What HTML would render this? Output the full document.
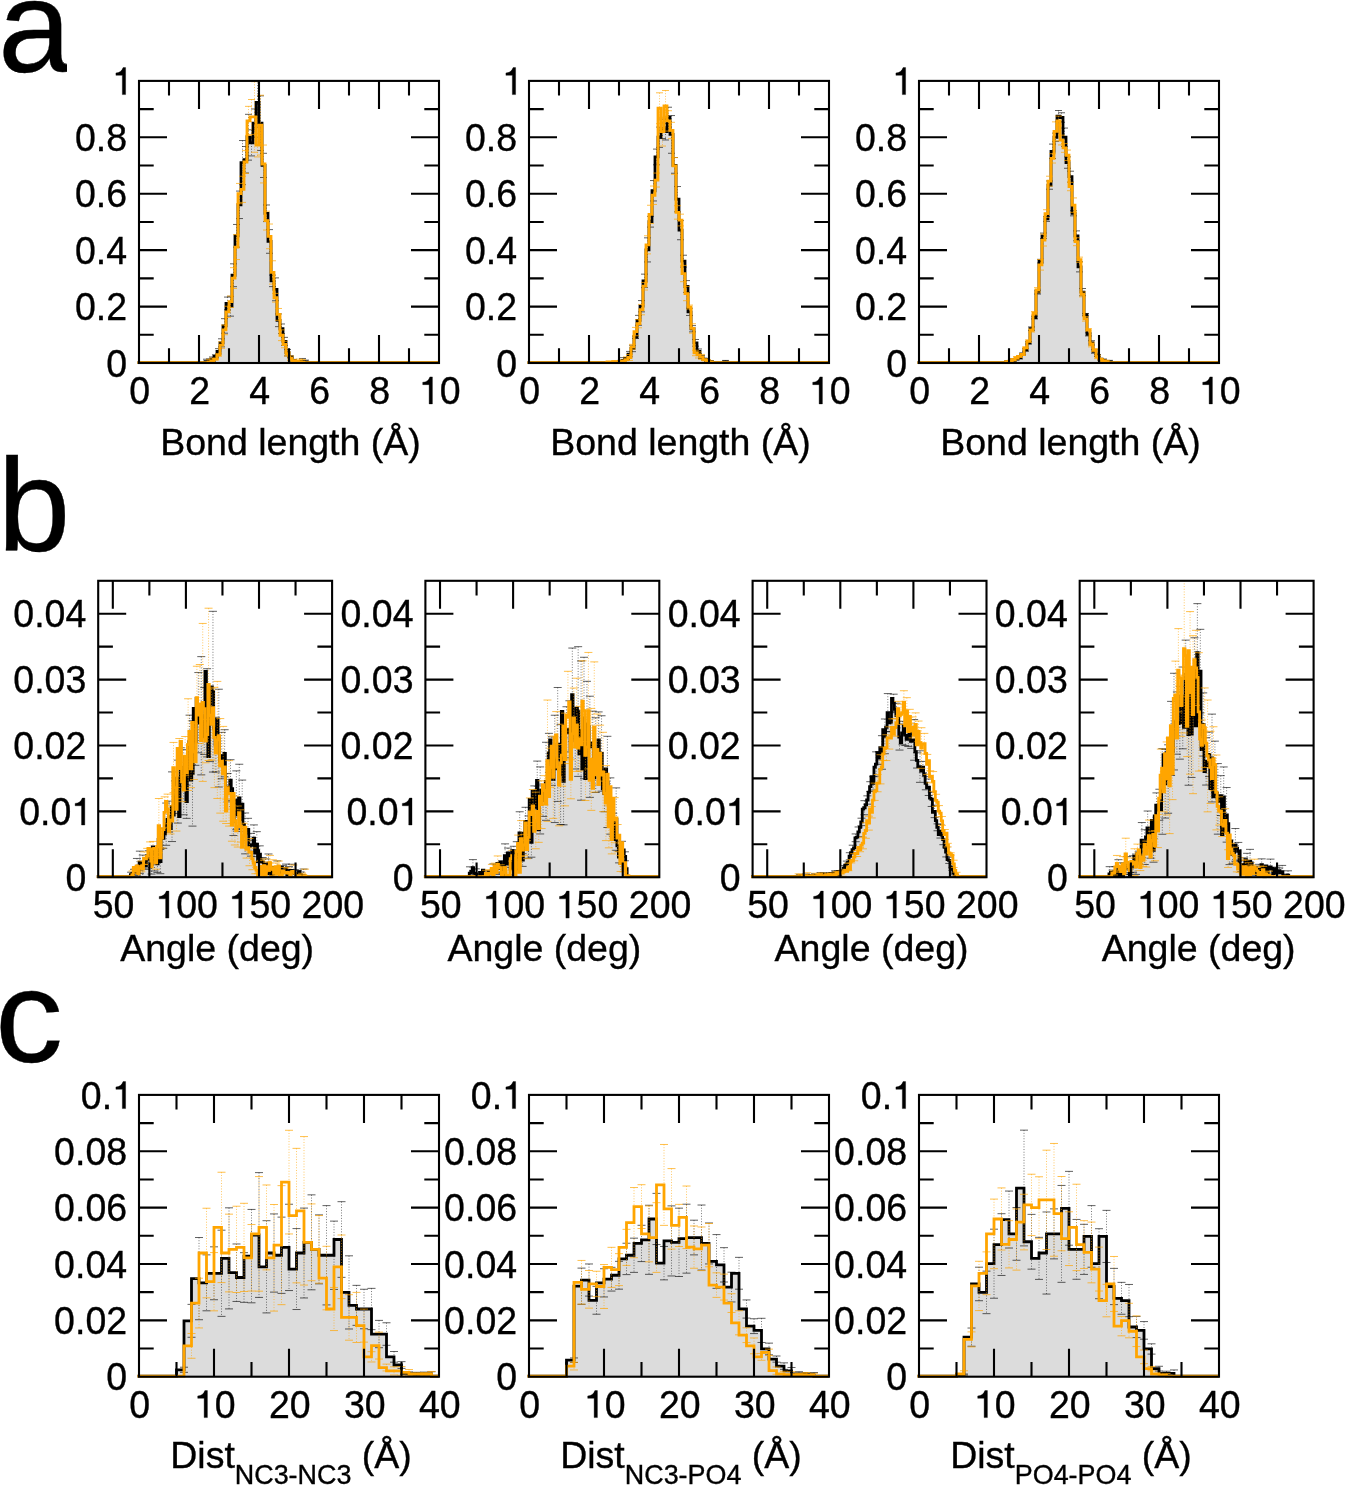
<!DOCTYPE html>
<html><head><meta charset="utf-8"><title>figure</title>
<style>html,body{margin:0;padding:0;background:#fff;font-family:"Liberation Sans",sans-serif;}svg{display:block;will-change:transform;}</style></head>
<body>
<svg width="1345" height="1485" viewBox="0 0 1345 1485" font-family="'Liberation Sans', sans-serif" font-size="37.5" fill="#000" stroke="#000" stroke-width="0.35">
<rect width="1345" height="1485" fill="#fff" stroke="none"/>
<clipPath id="c139_80"><rect x="137" y="80.9" width="304" height="283.1"/></clipPath>
<g clip-path="url(#c139_80)">
<path d="M139 362.55H205V361.71H208V360.86H211V359.17H214V356.35H217V351.28H220V342.83H223V325.94H226V303.4H229V306.22H232V275.24H235V235.81H238V204.83H241V162.58H244V159.76H247V137.23H250V142.86H253V123.15H256V102.31H259V123.15H262V165.4H265V213.28H268V241.44H271V280.87H274V289.32H277V320.3H280V328.75H283V341.43H286V352.69H289V356.92H292V360.3H295V361.42H301V361.71H304V361.99H307V362.55H439H439Z" fill="#dcdcdc" stroke="none"/>
<path d="M206.5 359.21V362.55M209.5 358.96V362.55M212.5 356.98V361.36M215.5 354.71V358M218.5 348.67V353.9M221.5 338.81V346.86M224.5 318.67V333.2M227.5 297.08V309.72M230.5 296.29V316.15M233.5 263.82V286.66M236.5 224.46V247.16M239.5 191.09V218.56M242.5 140.53V184.63M245.5 146.52V173M248.5 114.32V160.14M251.5 129.81V155.92M254.5 108.98V137.31M257.5 77.05V127.56M260.5 95.84V150.46M263.5 153.3V177.49M266.5 204.97V221.59M269.5 229.61V253.27M272.5 275.11V286.63M275.5 277.88V300.76M278.5 313.95V326.65M281.5 323.98V333.52M284.5 337.37V345.48M287.5 349.47V355.91M290.5 356.05V357.79M293.5 359.33V361.26M296.5 360.89V361.95M299.5 360.9V361.94M302.5 358.47V362.55M305.5 360.12V362.55" fill="none" stroke="#000" stroke-width="1.0" stroke-dasharray="1 1.7" opacity="0.527"/><path d="M203 359.21h7M203 362.55h7M206 358.96h7M206 362.55h7M209 356.98h7M209 361.36h7M212 354.71h7M212 358h7M215 348.67h7M215 353.9h7M218 338.81h7M218 346.86h7M221 318.67h7M221 333.2h7M224 297.08h7M224 309.72h7M227 296.29h7M227 316.15h7M230 263.82h7M230 286.66h7M233 224.46h7M233 247.16h7M236 191.09h7M236 218.56h7M239 140.53h7M239 184.63h7M242 146.52h7M242 173h7M245 114.32h7M245 160.14h7M248 129.81h7M248 155.92h7M251 108.98h7M251 137.31h7M254 77.05h7M254 127.56h7M257 95.84h7M257 150.46h7M260 153.3h7M260 177.49h7M263 204.97h7M263 221.59h7M266 229.61h7M266 253.27h7M269 275.11h7M269 286.63h7M272 277.88h7M272 300.76h7M275 313.95h7M275 326.65h7M278 323.98h7M278 333.52h7M281 337.37h7M281 345.48h7M284 349.47h7M284 355.91h7M287 356.05h7M287 357.79h7M290 359.33h7M290 361.26h7M293 360.89h7M293 361.95h7M296 360.9h7M296 361.94h7M299 358.47h7M299 362.55h7M302 360.12h7M302 362.55h7" fill="none" stroke="#000" stroke-width="1.0" opacity="0.62"/>
<path d="M137.5 362.55H205V361.71H208V360.86H211V359.17H214V356.35H217V351.28H220V342.83H223V325.94H226V303.4H229V306.22H232V275.24H235V235.81H238V204.83H241V162.58H244V159.76H247V137.23H250V142.86H253V123.15H256V102.31H259V123.15H262V165.4H265V213.28H268V241.44H271V280.87H274V289.32H277V320.3H280V328.75H283V341.43H286V352.69H289V356.92H292V360.3H295V361.42H301V361.71H304V361.99H307V362.55H439H439" fill="none" stroke="#000" stroke-width="2.8" stroke-linejoin="miter"/>
<path d="M209.5 359.36V362.55M212.5 358.16V362.55M215.5 358.55V359.79M218.5 353.8V356.09M221.5 341.84V348.34M224.5 325.04V334.71M227.5 306.25V317.46M230.5 296V307.43M233.5 267.66V288.45M236.5 234.61V259.54M239.5 183.43V203.69M242.5 176.25V202.42M245.5 150.62V173.41M248.5 106.37V135.42M251.5 99.5V134.4M254.5 81.67V152.23M257.5 133.33V156.9M260.5 95.23V155.01M263.5 145.04V182.93M266.5 211.16V230.03M269.5 224.02V248.73M272.5 260.77V284.08M275.5 293.4V302.14M278.5 308.46V320.32M281.5 329.85V340.61M284.5 341.29V347.75M287.5 352.07V356.13M290.5 356.03V360.62M293.5 359.71V362.01M296.5 360.25V362.55M299.5 359.1V362.55M302.5 359.64V362.55" fill="none" stroke="#ffa500" stroke-width="1.0" stroke-dasharray="1 1.7" opacity="0.595"/><path d="M206 359.36h7M206 362.55h7M209 358.16h7M209 362.55h7M212 358.55h7M212 359.79h7M215 353.8h7M215 356.09h7M218 341.84h7M218 348.34h7M221 325.04h7M221 334.71h7M224 306.25h7M224 317.46h7M227 296h7M227 307.43h7M230 267.66h7M230 288.45h7M233 234.61h7M233 259.54h7M236 183.43h7M236 203.69h7M239 176.25h7M239 202.42h7M242 150.62h7M242 173.41h7M245 106.37h7M245 135.42h7M248 99.5h7M248 134.4h7M251 81.67h7M251 152.23h7M254 133.33h7M254 156.9h7M257 95.23h7M257 155.01h7M260 145.04h7M260 182.93h7M263 211.16h7M263 230.03h7M266 224.02h7M266 248.73h7M269 260.77h7M269 284.08h7M272 293.4h7M272 302.14h7M275 308.46h7M275 320.32h7M278 329.85h7M278 340.61h7M281 341.29h7M281 347.75h7M284 352.07h7M284 356.13h7M287 356.03h7M287 360.62h7M290 359.71h7M290 362.01h7M293 360.25h7M293 362.55h7M296 359.1h7M296 362.55h7M299 359.64h7M299 362.55h7" fill="none" stroke="#ffa500" stroke-width="1.0" opacity="0.7"/>
<path d="M137.5 362.55H208V361.99H211V361.42H214V359.17H217V354.95H220V345.09H223V329.88H226V311.85H229V301.71H232V278.06H235V247.07H238V193.56H241V189.34H244V162.02H247V120.89H250V116.95H256V145.12H259V125.12H262V163.99H265V220.6H268V236.37H271V272.42H274V297.77H277V314.39H280V335.23H283V344.52H286V354.1H289V358.33H292V360.86H295V361.42H298V361.71H301V362.27H304V362.55H439H439" fill="none" stroke="#ffa500" stroke-width="2.8" stroke-linejoin="miter"/>
</g>
<path d="M199 363v-28M199 80.9v28M259 363v-28M259 80.9v28M319 363v-28M319 80.9v28M379 363v-28M379 80.9v28M169 363v-14.7M169 80.9v14.7M229 363v-14.7M229 80.9v14.7M289 363v-14.7M289 80.9v14.7M349 363v-14.7M349 80.9v14.7M409 363v-14.7M409 80.9v14.7M139 306.58h28M439 306.58h-28M139 250.16h28M439 250.16h-28M139 193.74h28M439 193.74h-28M139 137.32h28M439 137.32h-28M139 334.79h14.7M439 334.79h-14.7M139 278.37h14.7M439 278.37h-14.7M139 221.95h14.7M439 221.95h-14.7M139 165.53h14.7M439 165.53h-14.7M139 109.11h14.7M439 109.11h-14.7" fill="none" stroke="#000" stroke-width="2.1"/>
<rect x="139" y="80.9" width="300" height="282.1" fill="none" stroke="#000" stroke-width="2.1"/>
<g transform="translate(0 403.9) scale(1 1.025) translate(0 -403.9)"><text x="129.37" y="403.9">0</text></g>
<g transform="translate(0 403.9) scale(1 1.025) translate(0 -403.9)"><text x="189.37" y="403.9">2</text></g>
<g transform="translate(0 403.9) scale(1 1.025) translate(0 -403.9)"><text x="249.37" y="403.9">4</text></g>
<g transform="translate(0 403.9) scale(1 1.025) translate(0 -403.9)"><text x="309.37" y="403.9">6</text></g>
<g transform="translate(0 403.9) scale(1 1.025) translate(0 -403.9)"><text x="369.37" y="403.9">8</text></g>
<g transform="translate(0 403.9) scale(1 1.025) translate(0 -403.9)"><path transform="translate(418.94 403.9) scale(0.03750 -0.03750)" d="M359 0L272 0L272 501L101 501L101 563C192 566 262 610 292 702L359 702Z" stroke-width="9.33"/><text x="439.8" y="403.9">0</text></g>
<g transform="translate(0 376.7) scale(1 1.025) translate(0 -376.7)"><text x="106.24" y="376.7">0</text></g>
<g transform="translate(0 320.28) scale(1 1.025) translate(0 -320.28)"><text x="74.97" y="320.28">0.2</text></g>
<g transform="translate(0 263.86) scale(1 1.025) translate(0 -263.86)"><text x="74.97" y="263.86">0.4</text></g>
<g transform="translate(0 207.44) scale(1 1.025) translate(0 -207.44)"><text x="74.97" y="207.44">0.6</text></g>
<g transform="translate(0 151.02) scale(1 1.025) translate(0 -151.02)"><text x="74.97" y="151.02">0.8</text></g>
<g transform="translate(0 94.6) scale(1 1.025) translate(0 -94.6)"><path transform="translate(112.14 94.6) scale(0.03750 -0.03750)" d="M359 0L272 0L272 501L101 501L101 563C192 566 262 610 292 702L359 702Z" stroke-width="9.33"/></g>
<text x="290.5" y="454.8" text-anchor="middle">Bond length (Å)</text>
<clipPath id="c529_80"><rect x="527" y="80.9" width="304" height="283.1"/></clipPath>
<g clip-path="url(#c529_80)">
<path d="M529 362.55H619V361.42H622V360.3H625V358.61H628V354.1H631V348.47H634V337.2H637V320.3H640V306.22H643V280.87H646V249.89H649V221.72H652V190.74H655V156.95H658V137.23H661V128.78H664V131.6H667V117.51H670V134.41H673V165.4H676V199.19H679V230.17H682V261.16H685V286.5H688V311.85H691V328.75H694V342.83H697V351.28H700V356.92H703V359.17H706V360.86H709V361.71H712V362.55H724V361.99H727V362.55H829H829Z" fill="#dcdcdc" stroke="none"/>
<path d="M620.5 360.42V362.43M623.5 357.64V362.55M626.5 357.99V359.23M629.5 351.41V356.79M632.5 345.26V351.67M635.5 335.91V338.5M638.5 315.36V325.24M641.5 300.58V311.86M644.5 274.15V287.59M647.5 237.83V261.95M650.5 216.35V227.1M653.5 180.55V200.94M656.5 149.1V164.79M659.5 127.1V147.36M662.5 119.01V138.55M665.5 123.23V139.97M668.5 107.22V127.81M671.5 115.56V153.27M674.5 157.53V173.26M677.5 186.54V211.85M680.5 220.61V239.74M683.5 255.23V267.08M686.5 280.6V292.41M689.5 308.24V315.46M692.5 325.61V331.89M695.5 339.47V346.2M698.5 348.98V353.59M701.5 355.35V358.49M704.5 358.45V359.89M707.5 360.39V361.33M710.5 360.71V362.55M725.5 360.43V362.55" fill="none" stroke="#000" stroke-width="1.0" stroke-dasharray="1 1.7" opacity="0.527"/><path d="M617 360.42h7M617 362.43h7M620 357.64h7M620 362.55h7M623 357.99h7M623 359.23h7M626 351.41h7M626 356.79h7M629 345.26h7M629 351.67h7M632 335.91h7M632 338.5h7M635 315.36h7M635 325.24h7M638 300.58h7M638 311.86h7M641 274.15h7M641 287.59h7M644 237.83h7M644 261.95h7M647 216.35h7M647 227.1h7M650 180.55h7M650 200.94h7M653 149.1h7M653 164.79h7M656 127.1h7M656 147.36h7M659 119.01h7M659 138.55h7M662 123.23h7M662 139.97h7M665 107.22h7M665 127.81h7M668 115.56h7M668 153.27h7M671 157.53h7M671 173.26h7M674 186.54h7M674 211.85h7M677 220.61h7M677 239.74h7M680 255.23h7M680 267.08h7M683 280.6h7M683 292.41h7M686 308.24h7M686 315.46h7M689 325.61h7M689 331.89h7M692 339.47h7M692 346.2h7M695 348.98h7M695 353.59h7M698 355.35h7M698 358.49h7M701 358.45h7M701 359.89h7M704 360.39h7M704 361.33h7M707 360.71h7M707 362.55h7M722 360.43h7M722 362.55h7" fill="none" stroke="#000" stroke-width="1.0" opacity="0.62"/>
<path d="M527.5 362.55H619V361.42H622V360.3H625V358.61H628V354.1H631V348.47H634V337.2H637V320.3H640V306.22H643V280.87H646V249.89H649V221.72H652V190.74H655V156.95H658V137.23H661V128.78H664V131.6H667V117.51H670V134.41H673V165.4H676V199.19H679V230.17H682V261.16H685V286.5H688V311.85H691V328.75H694V342.83H697V351.28H700V356.92H703V359.17H706V360.86H709V361.71H712V362.55H724V361.99H727V362.55H829H829" fill="none" stroke="#000" stroke-width="2.8" stroke-linejoin="miter"/>
<path d="M608.5 361.79V362.18M614.5 360.61V362.55M620.5 361.51V361.9M623.5 360.8V360.92M626.5 356.87V362.55M629.5 354.53V360.43M632.5 344.33V349.22M635.5 327.42V335.72M638.5 319.61V327.75M641.5 304.4V314.8M644.5 282.44V290M647.5 235.78V253.86M650.5 205.25V223.55M653.5 186.04V204.46M656.5 173.05V187.03M659.5 92.8V123.64M662.5 117.14V146.05M665.5 90.49V121.45M668.5 110.72V131.07M671.5 122.3V138.64M674.5 157.57V174.35M677.5 205.69V219.17M680.5 214.15V225.92M683.5 265.41V281.68M686.5 286.39V300.7M689.5 305.09V309.04M692.5 323.75V333.19M695.5 350.26V355.69M698.5 351.9V357.99M701.5 354.41V359.42M704.5 359.36V360.11M707.5 359.71V362.55M710.5 361.25V362.55" fill="none" stroke="#ffa500" stroke-width="1.0" stroke-dasharray="1 1.7" opacity="0.595"/><path d="M605 361.79h7M605 362.18h7M611 360.61h7M611 362.55h7M617 361.51h7M617 361.9h7M620 360.8h7M620 360.92h7M623 356.87h7M623 362.55h7M626 354.53h7M626 360.43h7M629 344.33h7M629 349.22h7M632 327.42h7M632 335.72h7M635 319.61h7M635 327.75h7M638 304.4h7M638 314.8h7M641 282.44h7M641 290h7M644 235.78h7M644 253.86h7M647 205.25h7M647 223.55h7M650 186.04h7M650 204.46h7M653 173.05h7M653 187.03h7M656 92.8h7M656 123.64h7M659 117.14h7M659 146.05h7M662 90.49h7M662 121.45h7M665 110.72h7M665 131.07h7M668 122.3h7M668 138.64h7M671 157.57h7M671 174.35h7M674 205.69h7M674 219.17h7M677 214.15h7M677 225.92h7M680 265.41h7M680 281.68h7M683 286.39h7M683 300.7h7M686 305.09h7M686 309.04h7M689 323.75h7M689 333.19h7M692 350.26h7M692 355.69h7M695 351.9h7M695 357.99h7M698 354.41h7M698 359.42h7M701 359.36h7M701 360.11h7M704 359.71h7M704 362.55h7M707 361.25h7M707 362.55h7" fill="none" stroke="#ffa500" stroke-width="1.0" opacity="0.7"/>
<path d="M527.5 362.55H607V361.99H610V362.55H613V361.71H616V362.55H619V361.71H622V360.86H625V359.73H628V357.48H631V346.78H634V331.57H637V323.68H640V309.6H643V286.22H646V244.82H649V214.4H652V195.25H655V180.04H658V108.22H661V131.6H664V105.97H667V120.89H670V130.47H673V165.96H676V212.43H679V220.04H682V273.55H685V293.55H688V307.06H691V328.47H694V352.97H697V354.95H700V356.92H703V359.73H706V361.42H709V361.99H712V362.55H829H829" fill="none" stroke="#ffa500" stroke-width="2.8" stroke-linejoin="miter"/>
</g>
<path d="M589 363v-28M589 80.9v28M649 363v-28M649 80.9v28M709 363v-28M709 80.9v28M769 363v-28M769 80.9v28M559 363v-14.7M559 80.9v14.7M619 363v-14.7M619 80.9v14.7M679 363v-14.7M679 80.9v14.7M739 363v-14.7M739 80.9v14.7M799 363v-14.7M799 80.9v14.7M529 306.58h28M829 306.58h-28M529 250.16h28M829 250.16h-28M529 193.74h28M829 193.74h-28M529 137.32h28M829 137.32h-28M529 334.79h14.7M829 334.79h-14.7M529 278.37h14.7M829 278.37h-14.7M529 221.95h14.7M829 221.95h-14.7M529 165.53h14.7M829 165.53h-14.7M529 109.11h14.7M829 109.11h-14.7" fill="none" stroke="#000" stroke-width="2.1"/>
<rect x="529" y="80.9" width="300" height="282.1" fill="none" stroke="#000" stroke-width="2.1"/>
<g transform="translate(0 403.9) scale(1 1.025) translate(0 -403.9)"><text x="519.37" y="403.9">0</text></g>
<g transform="translate(0 403.9) scale(1 1.025) translate(0 -403.9)"><text x="579.37" y="403.9">2</text></g>
<g transform="translate(0 403.9) scale(1 1.025) translate(0 -403.9)"><text x="639.37" y="403.9">4</text></g>
<g transform="translate(0 403.9) scale(1 1.025) translate(0 -403.9)"><text x="699.37" y="403.9">6</text></g>
<g transform="translate(0 403.9) scale(1 1.025) translate(0 -403.9)"><text x="759.37" y="403.9">8</text></g>
<g transform="translate(0 403.9) scale(1 1.025) translate(0 -403.9)"><path transform="translate(808.94 403.9) scale(0.03750 -0.03750)" d="M359 0L272 0L272 501L101 501L101 563C192 566 262 610 292 702L359 702Z" stroke-width="9.33"/><text x="829.8" y="403.9">0</text></g>
<g transform="translate(0 376.7) scale(1 1.025) translate(0 -376.7)"><text x="496.24" y="376.7">0</text></g>
<g transform="translate(0 320.28) scale(1 1.025) translate(0 -320.28)"><text x="464.97" y="320.28">0.2</text></g>
<g transform="translate(0 263.86) scale(1 1.025) translate(0 -263.86)"><text x="464.97" y="263.86">0.4</text></g>
<g transform="translate(0 207.44) scale(1 1.025) translate(0 -207.44)"><text x="464.97" y="207.44">0.6</text></g>
<g transform="translate(0 151.02) scale(1 1.025) translate(0 -151.02)"><text x="464.97" y="151.02">0.8</text></g>
<g transform="translate(0 94.6) scale(1 1.025) translate(0 -94.6)"><path transform="translate(502.14 94.6) scale(0.03750 -0.03750)" d="M359 0L272 0L272 501L101 501L101 563C192 566 262 610 292 702L359 702Z" stroke-width="9.33"/></g>
<text x="680.5" y="454.8" text-anchor="middle">Bond length (Å)</text>
<clipPath id="c919_80"><rect x="917" y="80.9" width="304" height="283.1"/></clipPath>
<g clip-path="url(#c919_80)">
<path d="M919 362.55H1006V361.99H1009V361.42H1012V360.3H1015V359.17H1018V357.48H1021V354.1H1024V349.88H1027V342.83H1030V328.75H1033V317.49H1036V292.14H1039V261.16H1042V235.81H1045V218.91H1048V185.11H1051V151.31H1054V137.23H1057V116.11H1060V117.51H1063V137.23H1066V162.58H1069V176.66H1072V213.28H1075V235.81H1078V266.79H1081V292.14H1084V314.67H1087V334.38H1090V342.83H1093V351.28H1096V355.51H1099V359.17H1102V360.3H1105V361.42H1108V361.99H1111V362.55H1219H1219Z" fill="#dcdcdc" stroke="none"/>
<path d="M1007.5 361.07V362.55M1010.5 360.48V362.36M1013.5 358.67V361.93M1016.5 358.74V359.6M1019.5 355.95V359.01M1022.5 353.13V355.07M1025.5 348.5V351.25M1028.5 341.66V344.01M1031.5 326.92V330.58M1034.5 316.04V318.93M1037.5 290.23V294.05M1040.5 259.34V262.97M1043.5 233.08V238.54M1046.5 216.44V221.38M1049.5 180.98V189.24M1052.5 144.08V158.54M1055.5 133.13V141.33M1058.5 110.5V121.71M1061.5 112.75V122.27M1064.5 128.05V146.41M1067.5 156.87V168.28M1070.5 171.19V182.13M1073.5 210.71V215.84M1076.5 230.87V240.74M1079.5 261.7V271.88M1082.5 288.5V295.77M1085.5 313.48V315.85M1088.5 332.83V335.94M1091.5 340.69V344.98M1094.5 349.33V353.24M1097.5 354.51V356.5M1100.5 358.59V359.75M1103.5 358.99V361.6M1106.5 361.28V361.57M1109.5 360.37V362.55" fill="none" stroke="#000" stroke-width="1.0" stroke-dasharray="1 1.7" opacity="0.527"/><path d="M1004 361.07h7M1004 362.55h7M1007 360.48h7M1007 362.36h7M1010 358.67h7M1010 361.93h7M1013 358.74h7M1013 359.6h7M1016 355.95h7M1016 359.01h7M1019 353.13h7M1019 355.07h7M1022 348.5h7M1022 351.25h7M1025 341.66h7M1025 344.01h7M1028 326.92h7M1028 330.58h7M1031 316.04h7M1031 318.93h7M1034 290.23h7M1034 294.05h7M1037 259.34h7M1037 262.97h7M1040 233.08h7M1040 238.54h7M1043 216.44h7M1043 221.38h7M1046 180.98h7M1046 189.24h7M1049 144.08h7M1049 158.54h7M1052 133.13h7M1052 141.33h7M1055 110.5h7M1055 121.71h7M1058 112.75h7M1058 122.27h7M1061 128.05h7M1061 146.41h7M1064 156.87h7M1064 168.28h7M1067 171.19h7M1067 182.13h7M1070 210.71h7M1070 215.84h7M1073 230.87h7M1073 240.74h7M1076 261.7h7M1076 271.88h7M1079 288.5h7M1079 295.77h7M1082 313.48h7M1082 315.85h7M1085 332.83h7M1085 335.94h7M1088 340.69h7M1088 344.98h7M1091 349.33h7M1091 353.24h7M1094 354.51h7M1094 356.5h7M1097 358.59h7M1097 359.75h7M1100 358.99h7M1100 361.6h7M1103 361.28h7M1103 361.57h7M1106 360.37h7M1106 362.55h7" fill="none" stroke="#000" stroke-width="1.0" opacity="0.62"/>
<path d="M917.5 362.55H1006V361.99H1009V361.42H1012V360.3H1015V359.17H1018V357.48H1021V354.1H1024V349.88H1027V342.83H1030V328.75H1033V317.49H1036V292.14H1039V261.16H1042V235.81H1045V218.91H1048V185.11H1051V151.31H1054V137.23H1057V116.11H1060V117.51H1063V137.23H1066V162.58H1069V176.66H1072V213.28H1075V235.81H1078V266.79H1081V292.14H1084V314.67H1087V334.38H1090V342.83H1093V351.28H1096V355.51H1099V359.17H1102V360.3H1105V361.42H1108V361.99H1111V362.55H1219H1219" fill="none" stroke="#000" stroke-width="2.8" stroke-linejoin="miter"/>
<path d="M1007.5 360.72V362.55M1010.5 360.57V361.71M1013.5 358.77V360.69M1016.5 356.52V359.22M1019.5 355.6V357.1M1022.5 353.62V355.42M1025.5 347.11V348.7M1028.5 339.97V342.31M1031.5 328.88V332.01M1034.5 311.58V314.94M1037.5 287.62V292.15M1040.5 259.52V270.12M1043.5 234.07V246M1046.5 209.74V217.38M1049.5 176.21V186.12M1052.5 153.68V163.03M1055.5 121.87V140.77M1058.5 116.08V125.7M1061.5 135.16V144.93M1064.5 143.57V152.3M1067.5 150.05V160.46M1070.5 182.33V190.71M1073.5 197.93V212.29M1076.5 237.77V245.67M1079.5 257.15V262.35M1082.5 291.92V296.86M1085.5 316.61V321.17M1088.5 328.78V330.98M1091.5 342.2V346.85M1094.5 348.75V351.57M1097.5 355.13V358.7M1100.5 358.71V359.63M1103.5 360.1V361.62M1106.5 360.26V362.55" fill="none" stroke="#ffa500" stroke-width="1.0" stroke-dasharray="1 1.7" opacity="0.595"/><path d="M1004 360.72h7M1004 362.55h7M1007 360.57h7M1007 361.71h7M1010 358.77h7M1010 360.69h7M1013 356.52h7M1013 359.22h7M1016 355.6h7M1016 357.1h7M1019 353.62h7M1019 355.42h7M1022 347.11h7M1022 348.7h7M1025 339.97h7M1025 342.31h7M1028 328.88h7M1028 332.01h7M1031 311.58h7M1031 314.94h7M1034 287.62h7M1034 292.15h7M1037 259.52h7M1037 270.12h7M1040 234.07h7M1040 246h7M1043 209.74h7M1043 217.38h7M1046 176.21h7M1046 186.12h7M1049 153.68h7M1049 163.03h7M1052 121.87h7M1052 140.77h7M1055 116.08h7M1055 125.7h7M1058 135.16h7M1058 144.93h7M1061 143.57h7M1061 152.3h7M1064 150.05h7M1064 160.46h7M1067 182.33h7M1067 190.71h7M1070 197.93h7M1070 212.29h7M1073 237.77h7M1073 245.67h7M1076 257.15h7M1076 262.35h7M1079 291.92h7M1079 296.86h7M1082 316.61h7M1082 321.17h7M1085 328.78h7M1085 330.98h7M1088 342.2h7M1088 346.85h7M1091 348.75h7M1091 351.57h7M1094 355.13h7M1094 358.7h7M1097 358.71h7M1097 359.63h7M1100 360.1h7M1100 361.62h7M1103 360.26h7M1103 362.55h7" fill="none" stroke="#ffa500" stroke-width="1.0" opacity="0.7"/>
<path d="M917.5 362.55H1006V361.99H1009V361.14H1012V359.73H1015V357.87H1018V356.35H1021V354.52H1024V347.9H1027V341.14H1030V330.44H1033V313.26H1036V289.88H1039V264.82H1042V240.03H1045V213.56H1048V181.17H1051V158.35H1054V131.32H1057V120.89H1060V140.05H1063V147.93H1066V155.26H1069V186.52H1072V205.11H1075V241.72H1078V259.75H1081V294.39H1084V318.89H1087V329.88H1090V344.52H1093V350.16H1096V356.92H1099V359.17H1102V360.86H1105V361.71H1108V362.55H1219H1219" fill="none" stroke="#ffa500" stroke-width="2.8" stroke-linejoin="miter"/>
</g>
<path d="M979 363v-28M979 80.9v28M1039 363v-28M1039 80.9v28M1099 363v-28M1099 80.9v28M1159 363v-28M1159 80.9v28M949 363v-14.7M949 80.9v14.7M1009 363v-14.7M1009 80.9v14.7M1069 363v-14.7M1069 80.9v14.7M1129 363v-14.7M1129 80.9v14.7M1189 363v-14.7M1189 80.9v14.7M919 306.58h28M1219 306.58h-28M919 250.16h28M1219 250.16h-28M919 193.74h28M1219 193.74h-28M919 137.32h28M1219 137.32h-28M919 334.79h14.7M1219 334.79h-14.7M919 278.37h14.7M1219 278.37h-14.7M919 221.95h14.7M1219 221.95h-14.7M919 165.53h14.7M1219 165.53h-14.7M919 109.11h14.7M1219 109.11h-14.7" fill="none" stroke="#000" stroke-width="2.1"/>
<rect x="919" y="80.9" width="300" height="282.1" fill="none" stroke="#000" stroke-width="2.1"/>
<g transform="translate(0 403.9) scale(1 1.025) translate(0 -403.9)"><text x="909.37" y="403.9">0</text></g>
<g transform="translate(0 403.9) scale(1 1.025) translate(0 -403.9)"><text x="969.37" y="403.9">2</text></g>
<g transform="translate(0 403.9) scale(1 1.025) translate(0 -403.9)"><text x="1029.37" y="403.9">4</text></g>
<g transform="translate(0 403.9) scale(1 1.025) translate(0 -403.9)"><text x="1089.37" y="403.9">6</text></g>
<g transform="translate(0 403.9) scale(1 1.025) translate(0 -403.9)"><text x="1149.37" y="403.9">8</text></g>
<g transform="translate(0 403.9) scale(1 1.025) translate(0 -403.9)"><path transform="translate(1198.94 403.9) scale(0.03750 -0.03750)" d="M359 0L272 0L272 501L101 501L101 563C192 566 262 610 292 702L359 702Z" stroke-width="9.33"/><text x="1219.8" y="403.9">0</text></g>
<g transform="translate(0 376.7) scale(1 1.025) translate(0 -376.7)"><text x="886.24" y="376.7">0</text></g>
<g transform="translate(0 320.28) scale(1 1.025) translate(0 -320.28)"><text x="854.97" y="320.28">0.2</text></g>
<g transform="translate(0 263.86) scale(1 1.025) translate(0 -263.86)"><text x="854.97" y="263.86">0.4</text></g>
<g transform="translate(0 207.44) scale(1 1.025) translate(0 -207.44)"><text x="854.97" y="207.44">0.6</text></g>
<g transform="translate(0 151.02) scale(1 1.025) translate(0 -151.02)"><text x="854.97" y="151.02">0.8</text></g>
<g transform="translate(0 94.6) scale(1 1.025) translate(0 -94.6)"><path transform="translate(892.14 94.6) scale(0.03750 -0.03750)" d="M359 0L272 0L272 501L101 501L101 563C192 566 262 610 292 702L359 702Z" stroke-width="9.33"/></g>
<text x="1070.5" y="454.8" text-anchor="middle">Bond length (Å)</text>
<clipPath id="c98_580"><rect x="96.2" y="580.8" width="237.9" height="297.4"/></clipPath>
<g clip-path="url(#c98_580)">
<path d="M98.2 876.75H130.36V874.61H131.82V873.57H133.28V872.17H134.75V872.41H136.21V866.82H137.67V872.6H139.13V862.24H140.59V868.99H142.06V866.07H143.52V864.95H144.98V865.72H146.44V856.01H147.9V859.31H149.37V851.5H150.83V864.31H152.29V846.84H153.75V859.53H155.21V848.66H156.68V863.88H158.14V839.42H159.6V861.55H161.06V838.15H162.52V838.25H163.98V833.85H165.45V824.18H166.91V819.36H168.37V816.58H169.83V828.69H171.29V806.71H172.76V815.16H174.22V797.24H175.68V778.13H177.14V791.61H178.6V816.6H180.06V767.3H181.53V772.81H182.99V782.24H184.45V757.42H185.91V801.72H187.37V769.67H188.84V741.71H190.3V780.16H191.76V773.44H193.22V708.46H194.68V741.76H196.15V698.32H197.61V712.67H199.07V722.81H200.53V715.75H201.99V736.87H203.45V721.01H204.92V671.48H206.38V712.8H207.84V756.57H209.3V723.82H210.76V687.11H212.23V691.67H213.69V728.44H215.15V744.63H216.61V719.42H218.07V738.11H219.54V761.06H221V755.59H222.46V765.2H223.92V753.3H225.38V787.05H226.85V787.68H228.31V793.22H229.77V780.03H231.23V788.72H232.69V821.01H234.15V802.57H235.62V800.27H237.08V814.96H238.54V797.9H240V819.5H241.46V804.26H242.93V824.39H244.39V833.41H245.85V830.5H247.31V829.36H248.77V846.07H250.24V844.76H251.7V845.26H253.16V838.12H254.62V853.01H256.08V844.16H257.54V861.67H259.01V854.27H260.47V860.99H261.93V862.22H263.39V864.17H264.85V864.96H266.32V873.48H267.78V863.27H269.24V869.58H270.7V874.77H272.16V867.73H273.62V873.42H275.09V870.12H276.55V870.1H278.01V872.5H279.47V876.42H280.93V867.11H282.4V871.76H283.86V871.59H285.32V868.34H286.78V874.71H288.24V871.88H289.71V870.43H291.17V870.72H292.63V872.01H294.09V873.66H295.55V874.38H297.01V874.1H298.48V871.77H299.94V874.73H301.4V876.66H302.86V875.62H304.32V876.75H332.1H332.1Z" fill="#dcdcdc" stroke="none"/>
<path d="M131.09 872.2V876.75M134.02 869.32V875.01M136.94 858.45V875.19M139.86 851.15V873.34M142.79 855.11V876.75M145.71 862.1V869.34M148.63 850.73V867.9M151.56 854.57V874.05M154.48 848.08V870.97M157.41 855.36V872.41M160.33 849.4V873.7M163.25 828.21V848.29M166.18 803.05V845.31M169.1 801.11V832.05M172.02 771.88V841.55M174.95 781.02V813.47M177.87 760.15V823.07M180.8 747.75V786.84M183.72 749.66V814.81M186.64 785.1V818.35M189.57 715.16V768.25M192.49 720.75V826.12M195.41 718.2V765.32M198.34 672.55V752.79M201.26 656.64V774.86M204.19 687.59V754.42M207.11 668.71V756.9M210.03 686.06V761.58M212.96 611.32V772.02M215.88 717.3V771.97M218.8 689.23V786.99M221.73 732.38V778.79M224.65 729.71V776.89M227.58 773.48V801.89M230.5 759.72V800.34M233.42 806.49V835.53M236.35 770.87V829.66M239.27 764.24V831.56M242.19 780.07V828.44M245.12 812.97V853.85M248.04 818.32V840.4M250.97 833.36V856.15M253.89 824.91V851.33M256.81 831.66V856.66M259.74 845.85V862.7M262.66 857.48V866.97M265.58 858.9V871.02M268.51 853.98V872.56M271.43 873.36V876.17M274.36 869.2V876.75M277.28 860.88V876.75M280.2 871.33V876.75M283.13 865.69V876.75M286.05 864.1V872.57M288.97 866.61V876.75M291.9 864.22V876.75M294.82 869.56V876.75M297.75 870.57V876.75M300.67 872.01V876.75M303.59 869.07V876.75" fill="none" stroke="#000" stroke-width="1.0" stroke-dasharray="1 1.7" opacity="0.527"/><path d="M127.09 872.2h8M127.09 876.75h8M130.02 869.32h8M130.02 875.01h8M132.94 858.45h8M132.94 875.19h8M135.86 851.15h8M135.86 873.34h8M138.79 855.11h8M138.79 876.75h8M141.71 862.1h8M141.71 869.34h8M144.63 850.73h8M144.63 867.9h8M147.56 854.57h8M147.56 874.05h8M150.48 848.08h8M150.48 870.97h8M153.41 855.36h8M153.41 872.41h8M156.33 849.4h8M156.33 873.7h8M159.25 828.21h8M159.25 848.29h8M162.18 803.05h8M162.18 845.31h8M165.1 801.11h8M165.1 832.05h8M168.02 771.88h8M168.02 841.55h8M170.95 781.02h8M170.95 813.47h8M173.87 760.15h8M173.87 823.07h8M176.8 747.75h8M176.8 786.84h8M179.72 749.66h8M179.72 814.81h8M182.64 785.1h8M182.64 818.35h8M185.57 715.16h8M185.57 768.25h8M188.49 720.75h8M188.49 826.12h8M191.41 718.2h8M191.41 765.32h8M194.34 672.55h8M194.34 752.79h8M197.26 656.64h8M197.26 774.86h8M200.19 687.59h8M200.19 754.42h8M203.11 668.71h8M203.11 756.9h8M206.03 686.06h8M206.03 761.58h8M208.96 611.32h8M208.96 772.02h8M211.88 717.3h8M211.88 771.97h8M214.8 689.23h8M214.8 786.99h8M217.73 732.38h8M217.73 778.79h8M220.65 729.71h8M220.65 776.89h8M223.58 773.48h8M223.58 801.89h8M226.5 759.72h8M226.5 800.34h8M229.42 806.49h8M229.42 835.53h8M232.35 770.87h8M232.35 829.66h8M235.27 764.24h8M235.27 831.56h8M238.19 780.07h8M238.19 828.44h8M241.12 812.97h8M241.12 853.85h8M244.04 818.32h8M244.04 840.4h8M246.97 833.36h8M246.97 856.15h8M249.89 824.91h8M249.89 851.33h8M252.81 831.66h8M252.81 856.66h8M255.74 845.85h8M255.74 862.7h8M258.66 857.48h8M258.66 866.97h8M261.58 858.9h8M261.58 871.02h8M264.51 853.98h8M264.51 872.56h8M267.43 873.36h8M267.43 876.17h8M270.36 869.2h8M270.36 876.75h8M273.28 860.88h8M273.28 876.75h8M276.2 871.33h8M276.2 876.75h8M279.13 865.69h8M279.13 876.75h8M282.05 864.1h8M282.05 872.57h8M284.97 866.61h8M284.97 876.75h8M287.9 864.22h8M287.9 876.75h8M290.82 869.56h8M290.82 876.75h8M293.75 870.57h8M293.75 876.75h8M296.67 872.01h8M296.67 876.75h8M299.59 869.07h8M299.59 876.75h8" fill="none" stroke="#000" stroke-width="1.0" opacity="0.62"/>
<path d="M96.7 876.75H130.36V874.61H131.82V873.57H133.28V872.17H134.75V872.41H136.21V866.82H137.67V872.6H139.13V862.24H140.59V868.99H142.06V866.07H143.52V864.95H144.98V865.72H146.44V856.01H147.9V859.31H149.37V851.5H150.83V864.31H152.29V846.84H153.75V859.53H155.21V848.66H156.68V863.88H158.14V839.42H159.6V861.55H161.06V838.15H162.52V838.25H163.98V833.85H165.45V824.18H166.91V819.36H168.37V816.58H169.83V828.69H171.29V806.71H172.76V815.16H174.22V797.24H175.68V778.13H177.14V791.61H178.6V816.6H180.06V767.3H181.53V772.81H182.99V782.24H184.45V757.42H185.91V801.72H187.37V769.67H188.84V741.71H190.3V780.16H191.76V773.44H193.22V708.46H194.68V741.76H196.15V698.32H197.61V712.67H199.07V722.81H200.53V715.75H201.99V736.87H203.45V721.01H204.92V671.48H206.38V712.8H207.84V756.57H209.3V723.82H210.76V687.11H212.23V691.67H213.69V728.44H215.15V744.63H216.61V719.42H218.07V738.11H219.54V761.06H221V755.59H222.46V765.2H223.92V753.3H225.38V787.05H226.85V787.68H228.31V793.22H229.77V780.03H231.23V788.72H232.69V821.01H234.15V802.57H235.62V800.27H237.08V814.96H238.54V797.9H240V819.5H241.46V804.26H242.93V824.39H244.39V833.41H245.85V830.5H247.31V829.36H248.77V846.07H250.24V844.76H251.7V845.26H253.16V838.12H254.62V853.01H256.08V844.16H257.54V861.67H259.01V854.27H260.47V860.99H261.93V862.22H263.39V864.17H264.85V864.96H266.32V873.48H267.78V863.27H269.24V869.58H270.7V874.77H272.16V867.73H273.62V873.42H275.09V870.12H276.55V870.1H278.01V872.5H279.47V876.42H280.93V867.11H282.4V871.76H283.86V871.59H285.32V868.34H286.78V874.71H288.24V871.88H289.71V870.43H291.17V870.72H292.63V872.01H294.09V873.66H295.55V874.38H297.01V874.1H298.48V871.77H299.94V874.73H301.4V876.66H302.86V875.62H304.32V876.75H332.1H332.1" fill="none" stroke="#000" stroke-width="2.8" stroke-linejoin="miter"/>
<path d="M132.55 870.93V876.75M135.48 868.76V873.52M138.4 866.89V876.75M141.33 861.06V871.81M144.25 851.83V864.45M147.17 848.36V864.22M150.1 841.9V858.7M153.02 841.4V856.51M155.94 856.57V869.19M158.87 798.51V852.63M161.79 828.3V847.98M164.72 796.84V827.78M167.64 794.14V823.75M170.56 805.67V833.96M173.49 742.45V792.65M176.41 787.5V831.06M179.33 738.53V798.76M182.26 762.18V801.68M185.18 736.51V775.69M188.11 698.75V790.42M191.03 750.17V787.66M193.95 723.28V779.46M196.88 666.24V728.94M199.8 664.52V743.57M202.72 623.43V781.39M205.65 719.43V762.77M208.57 608.21V760.53M211.5 688.81V759.85M214.42 687.31V787.63M217.34 681.38V798.47M220.27 718.59V813.12M223.19 726.41V821.19M226.11 798.92V823.51M229.04 760.66V826.09M231.96 808.99V841.21M234.89 796.1V844.99M237.81 806.01V847.05M240.73 809.83V842.09M243.66 823.24V848.07M246.58 840.72V858.09M249.5 838.47V865.74M252.43 847.93V869.71M255.35 861.25V873.71M258.28 873.72V876.75M261.2 860.34V872.48M264.12 858.89V872.66M267.05 861.99V871.39M269.97 855.4V869.82M272.89 859.79V875.56M275.82 862.97V870.41M278.74 861.04V870.74M281.67 869.92V876.75M284.59 867.45V876.75M287.51 868.05V876.75M293.36 864.99V876.75M299.21 874.72V876.75M302.13 873.29V876.75M305.06 869.15V876.75" fill="none" stroke="#ffa500" stroke-width="1.0" stroke-dasharray="1 1.7" opacity="0.595"/><path d="M128.55 870.93h8M128.55 876.75h8M131.48 868.76h8M131.48 873.52h8M134.4 866.89h8M134.4 876.75h8M137.33 861.06h8M137.33 871.81h8M140.25 851.83h8M140.25 864.45h8M143.17 848.36h8M143.17 864.22h8M146.1 841.9h8M146.1 858.7h8M149.02 841.4h8M149.02 856.51h8M151.94 856.57h8M151.94 869.19h8M154.87 798.51h8M154.87 852.63h8M157.79 828.3h8M157.79 847.98h8M160.72 796.84h8M160.72 827.78h8M163.64 794.14h8M163.64 823.75h8M166.56 805.67h8M166.56 833.96h8M169.49 742.45h8M169.49 792.65h8M172.41 787.5h8M172.41 831.06h8M175.33 738.53h8M175.33 798.76h8M178.26 762.18h8M178.26 801.68h8M181.18 736.51h8M181.18 775.69h8M184.11 698.75h8M184.11 790.42h8M187.03 750.17h8M187.03 787.66h8M189.95 723.28h8M189.95 779.46h8M192.88 666.24h8M192.88 728.94h8M195.8 664.52h8M195.8 743.57h8M198.72 623.43h8M198.72 781.39h8M201.65 719.43h8M201.65 762.77h8M204.57 608.21h8M204.57 760.53h8M207.5 688.81h8M207.5 759.85h8M210.42 687.31h8M210.42 787.63h8M213.34 681.38h8M213.34 798.47h8M216.27 718.59h8M216.27 813.12h8M219.19 726.41h8M219.19 821.19h8M222.11 798.92h8M222.11 823.51h8M225.04 760.66h8M225.04 826.09h8M227.96 808.99h8M227.96 841.21h8M230.89 796.1h8M230.89 844.99h8M233.81 806.01h8M233.81 847.05h8M236.73 809.83h8M236.73 842.09h8M239.66 823.24h8M239.66 848.07h8M242.58 840.72h8M242.58 858.09h8M245.5 838.47h8M245.5 865.74h8M248.43 847.93h8M248.43 869.71h8M251.35 861.25h8M251.35 873.71h8M254.28 873.72h8M254.28 876.75h8M257.2 860.34h8M257.2 872.48h8M260.12 858.89h8M260.12 872.66h8M263.05 861.99h8M263.05 871.39h8M265.97 855.4h8M265.97 869.82h8M268.89 859.79h8M268.89 875.56h8M271.82 862.97h8M271.82 870.41h8M274.74 861.04h8M274.74 870.74h8M277.67 869.92h8M277.67 876.75h8M280.59 867.45h8M280.59 876.75h8M283.51 868.05h8M283.51 876.75h8M289.36 864.99h8M289.36 876.75h8M295.21 874.72h8M295.21 876.75h8M298.13 873.29h8M298.13 876.75h8M301.06 869.15h8M301.06 876.75h8" fill="none" stroke="#ffa500" stroke-width="1.0" opacity="0.7"/>
<path d="M96.7 876.75H131.82V874.78H133.28V867.31H134.75V871.14H136.21V865.92H137.67V873.59H139.13V867.78H140.59V866.43H142.06V869.2H143.52V858.14H144.98V858.87H146.44V856.29H147.9V848.51H149.37V850.3H150.83V866.89H152.29V848.95H153.75V848.29H155.21V862.88H156.68V846.31H158.14V825.57H159.6V857.94H161.06V838.14H162.52V829.62H163.98V812.31H165.45V801.51H166.91V808.94H168.37V831.33H169.83V819.82H171.29V821.04H172.76V767.55H174.22V787.58H175.68V809.28H177.14V748.43H178.6V768.64H180.06V741.51H181.53V781.93H182.99V790.13H184.45V756.1H185.91V772.93H187.37V744.59H188.84V731.37H190.3V768.92H191.76V722.3H193.22V751.37H194.68V761.93H196.15V697.59H197.61V715.04H199.07V704.04H200.53V740.66H201.99V702.41H203.45V708.77H204.92V741.1H206.38V734.6H207.84V684.37H209.3V715.25H210.76V724.33H212.23V707.66H213.69V737.47H215.15V753.11H216.61V739.92H218.07V735.54H219.54V765.86H221V761.15H222.46V773.8H223.92V766.85H225.38V811.21H226.85V787.7H228.31V793.37H229.77V793.95H231.23V825.1H232.69V793.4H234.15V820.54H235.62V830.84H237.08V826.53H238.54V812.66H240V825.96H241.46V847.07H242.93V835.66H244.39V827.06H245.85V849.4H247.31V847.56H248.77V852.1H250.24V852.38H251.7V858.82H253.16V863.04H254.62V867.48H256.08V870.37H257.54V875.24H259.01V873.22H260.47V866.41H261.93V875.05H263.39V865.77H264.85V875.91H266.32V866.69H267.78V870.37H269.24V862.61H270.7V869.27H272.16V867.67H273.62V873.32H275.09V866.69H276.55V874.14H278.01V865.89H279.47V875.02H280.93V876.24H282.4V871.21H283.86V873.04H285.32V872.74H286.78V872.4H288.24V873.2H289.71V876.75H291.17V871.6H292.63V871.43H294.09V873.36H295.55V876.75H297.01V876.46H298.48V875.95H299.94V876.69H301.4V876.62H302.86V876.75H304.32V875.64H305.79V876.75H332.1H332.1" fill="none" stroke="#ffa500" stroke-width="2.8" stroke-linejoin="miter"/>
</g>
<path d="M112.82 877.2v-28M112.82 580.8v28M185.91 877.2v-28M185.91 580.8v28M259.01 877.2v-28M259.01 580.8v28M149.37 877.2v-14.7M149.37 580.8v14.7M222.46 877.2v-14.7M222.46 580.8v14.7M295.55 877.2v-14.7M295.55 580.8v14.7M98.2 811.33h28M332.1 811.33h-28M98.2 745.47h28M332.1 745.47h-28M98.2 679.6h28M332.1 679.6h-28M98.2 613.73h28M332.1 613.73h-28M98.2 844.27h14.7M332.1 844.27h-14.7M98.2 778.4h14.7M332.1 778.4h-14.7M98.2 712.53h14.7M332.1 712.53h-14.7M98.2 646.67h14.7M332.1 646.67h-14.7" fill="none" stroke="#000" stroke-width="2.1"/>
<rect x="98.2" y="580.8" width="233.9" height="296.4" fill="none" stroke="#000" stroke-width="2.1"/>
<g transform="translate(0 918.1) scale(1 1.025) translate(0 -918.1)"><text x="92.76" y="918.1">50</text></g>
<g transform="translate(0 918.1) scale(1 1.025) translate(0 -918.1)"><path transform="translate(155.43 918.1) scale(0.03750 -0.03750)" d="M359 0L272 0L272 501L101 501L101 563C192 566 262 610 292 702L359 702Z" stroke-width="9.33"/><text x="176.28" y="918.1">00</text></g>
<g transform="translate(0 918.1) scale(1 1.025) translate(0 -918.1)"><path transform="translate(228.52 918.1) scale(0.03750 -0.03750)" d="M359 0L272 0L272 501L101 501L101 563C192 566 262 610 292 702L359 702Z" stroke-width="9.33"/><text x="249.38" y="918.1">50</text></g>
<g transform="translate(0 918.1) scale(1 1.025) translate(0 -918.1)"><text x="301.62" y="918.1">200</text></g>
<g transform="translate(0 890.9) scale(1 1.025) translate(0 -890.9)"><text x="65.44" y="890.9">0</text></g>
<g transform="translate(0 825.03) scale(1 1.025) translate(0 -825.03)"><text x="19.22" y="825.03">0.0</text><path transform="translate(71.34 825.03) scale(0.03750 -0.03750)" d="M359 0L272 0L272 501L101 501L101 563C192 566 262 610 292 702L359 702Z" stroke-width="9.33"/></g>
<g transform="translate(0 759.17) scale(1 1.025) translate(0 -759.17)"><text x="13.32" y="759.17">0.02</text></g>
<g transform="translate(0 693.3) scale(1 1.025) translate(0 -693.3)"><text x="13.32" y="693.3">0.03</text></g>
<g transform="translate(0 627.43) scale(1 1.025) translate(0 -627.43)"><text x="13.32" y="627.43">0.04</text></g>
<text x="217.15" y="960.6" text-anchor="middle">Angle (deg)</text>
<clipPath id="c425_580"><rect x="423.4" y="580.8" width="237.9" height="297.4"/></clipPath>
<g clip-path="url(#c425_580)">
<path d="M425.4 876.75H469.26V873.2H470.72V871.38H472.18V867.65H473.64V873.38H475.1V873.93H476.57V876.75H479.49V872.3H480.95V876.75H482.41V870.16H483.88V875.82H485.34V873.39H486.8V876.3H488.26V872.41H489.72V873.81H491.18V870.18H492.65V870.72H494.11V871.99H495.57V868.82H497.03V863.39H498.49V868.59H499.96V862.08H501.42V866.75H502.88V874.85H504.34V855.64H505.8V864.17H507.26V852.79H508.73V858.37H510.19V868.99H511.65V850.55H513.11V857.76H514.57V870.15H516.04V850.93H517.5V857.32H518.96V832.84H520.42V838.24H521.88V860.04H523.35V833.09H524.81V821.48H526.27V831.02H527.73V837.11H529.19V799.51H530.65V842.25H532.12V791.17H533.58V797.89H535.04V807.62H536.5V780.36H537.96V829.93H539.43V800.44H540.89V790.25H542.35V800.72H543.81V787.34H545.27V781.29H546.74V788.05H548.2V752.83H549.66V739.83H551.12V761.1H552.58V779.26H554.04V768.9H555.51V758.95H556.97V744.45H558.43V744.17H559.89V774.58H561.35V711.41H562.82V781.33H564.28V729.95H565.74V729.34H567.2V732.87H568.66V729.27H570.13V749.69H571.59V694.74H573.05V721.72H574.51V739.25H575.97V708.16H577.43V711.53H578.9V753.89H580.36V730.62H581.82V769.19H583.28V718H584.74V778.69H586.21V724.08H587.67V726.5H589.13V746.78H590.59V745.47H592.05V742.83H593.52V777.87H594.98V755.15H596.44V765.67H597.9V739.98H599.36V779.2H600.83V753.47H602.29V788.75H603.75V793.69H605.21V768.93H606.67V781.91H608.13V802.06H609.6V806.01H611.06V810.61H612.52V824.82H613.98V839.53H615.44V819.1H616.91V845.58H618.37V857.09H619.83V856.35H621.29V852.65H622.75V850H624.21V856.29H625.68V868.58H627.14V876.75H659.3H659.3Z" fill="#dcdcdc" stroke="none"/>
<path d="M469.99 866.82V876.75M472.91 859.62V875.68M475.83 868.82V876.75M484.61 872.2V876.75M487.53 870.79V876.75M490.45 870.79V876.75M493.38 863.91V876.75M496.3 864.83V872.8M499.22 862.81V874.37M502.15 860.72V872.78M505.07 843.86V867.42M508 848.07V857.51M510.92 862.98V875M513.84 846.29V869.24M516.77 841.7V860.16M519.69 811.76V853.92M522.61 853.69V866.4M525.54 807.3V835.67M528.46 815.96V858.26M531.39 827.32V857.18M534.31 785.9V809.88M537.23 761.08V799.64M540.16 766.92V833.95M543.08 785.01V816.43M546 742.27V820.31M548.93 733.35V772.31M551.85 736.88V785.31M554.78 715.24V822.55M557.7 687.49V801.42M560.62 724.6V824.57M563.55 737.83V824.83M566.47 706.74V751.93M569.39 700.75V757.79M572.32 648.06V741.42M575.24 709.52V768.99M578.17 646.68V776.38M581.09 661.03V800.21M584.01 657.27V778.73M586.94 681.31V766.85M589.86 696.21V797.36M592.78 711.17V774.48M595.71 717.81V792.49M598.63 711.92V768.05M601.56 715.75V791.2M604.48 775.66V811.72M607.4 736.31V827.51M610.33 777.86V834.15M613.25 813.28V836.35M616.17 787.88V850.31M619.1 851.32V862.86M622.02 841.3V864M624.95 851.82V860.75" fill="none" stroke="#000" stroke-width="1.0" stroke-dasharray="1 1.7" opacity="0.527"/><path d="M465.99 866.82h8M465.99 876.75h8M468.91 859.62h8M468.91 875.68h8M471.83 868.82h8M471.83 876.75h8M480.61 872.2h8M480.61 876.75h8M483.53 870.79h8M483.53 876.75h8M486.45 870.79h8M486.45 876.75h8M489.38 863.91h8M489.38 876.75h8M492.3 864.83h8M492.3 872.8h8M495.22 862.81h8M495.22 874.37h8M498.15 860.72h8M498.15 872.78h8M501.07 843.86h8M501.07 867.42h8M504 848.07h8M504 857.51h8M506.92 862.98h8M506.92 875h8M509.84 846.29h8M509.84 869.24h8M512.77 841.7h8M512.77 860.16h8M515.69 811.76h8M515.69 853.92h8M518.61 853.69h8M518.61 866.4h8M521.54 807.3h8M521.54 835.67h8M524.46 815.96h8M524.46 858.26h8M527.39 827.32h8M527.39 857.18h8M530.31 785.9h8M530.31 809.88h8M533.23 761.08h8M533.23 799.64h8M536.16 766.92h8M536.16 833.95h8M539.08 785.01h8M539.08 816.43h8M542 742.27h8M542 820.31h8M544.93 733.35h8M544.93 772.31h8M547.85 736.88h8M547.85 785.31h8M550.78 715.24h8M550.78 822.55h8M553.7 687.49h8M553.7 801.42h8M556.62 724.6h8M556.62 824.57h8M559.55 737.83h8M559.55 824.83h8M562.47 706.74h8M562.47 751.93h8M565.39 700.75h8M565.39 757.79h8M568.32 648.06h8M568.32 741.42h8M571.24 709.52h8M571.24 768.99h8M574.17 646.68h8M574.17 776.38h8M577.09 661.03h8M577.09 800.21h8M580.01 657.27h8M580.01 778.73h8M582.94 681.31h8M582.94 766.85h8M585.86 696.21h8M585.86 797.36h8M588.78 711.17h8M588.78 774.48h8M591.71 717.81h8M591.71 792.49h8M594.63 711.92h8M594.63 768.05h8M597.56 715.75h8M597.56 791.2h8M600.48 775.66h8M600.48 811.72h8M603.4 736.31h8M603.4 827.51h8M606.33 777.86h8M606.33 834.15h8M609.25 813.28h8M609.25 836.35h8M612.17 787.88h8M612.17 850.31h8M615.1 851.32h8M615.1 862.86h8M618.02 841.3h8M618.02 864h8M620.95 851.82h8M620.95 860.75h8" fill="none" stroke="#000" stroke-width="1.0" opacity="0.62"/>
<path d="M423.9 876.75H469.26V873.2H470.72V871.38H472.18V867.65H473.64V873.38H475.1V873.93H476.57V876.75H479.49V872.3H480.95V876.75H482.41V870.16H483.88V875.82H485.34V873.39H486.8V876.3H488.26V872.41H489.72V873.81H491.18V870.18H492.65V870.72H494.11V871.99H495.57V868.82H497.03V863.39H498.49V868.59H499.96V862.08H501.42V866.75H502.88V874.85H504.34V855.64H505.8V864.17H507.26V852.79H508.73V858.37H510.19V868.99H511.65V850.55H513.11V857.76H514.57V870.15H516.04V850.93H517.5V857.32H518.96V832.84H520.42V838.24H521.88V860.04H523.35V833.09H524.81V821.48H526.27V831.02H527.73V837.11H529.19V799.51H530.65V842.25H532.12V791.17H533.58V797.89H535.04V807.62H536.5V780.36H537.96V829.93H539.43V800.44H540.89V790.25H542.35V800.72H543.81V787.34H545.27V781.29H546.74V788.05H548.2V752.83H549.66V739.83H551.12V761.1H552.58V779.26H554.04V768.9H555.51V758.95H556.97V744.45H558.43V744.17H559.89V774.58H561.35V711.41H562.82V781.33H564.28V729.95H565.74V729.34H567.2V732.87H568.66V729.27H570.13V749.69H571.59V694.74H573.05V721.72H574.51V739.25H575.97V708.16H577.43V711.53H578.9V753.89H580.36V730.62H581.82V769.19H583.28V718H584.74V778.69H586.21V724.08H587.67V726.5H589.13V746.78H590.59V745.47H592.05V742.83H593.52V777.87H594.98V755.15H596.44V765.67H597.9V739.98H599.36V779.2H600.83V753.47H602.29V788.75H603.75V793.69H605.21V768.93H606.67V781.91H608.13V802.06H609.6V806.01H611.06V810.61H612.52V824.82H613.98V839.53H615.44V819.1H616.91V845.58H618.37V857.09H619.83V856.35H621.29V852.65H622.75V850H624.21V856.29H625.68V868.58H627.14V876.75H659.3H659.3" fill="none" stroke="#000" stroke-width="2.8" stroke-linejoin="miter"/>
<path d="M486.07 870.31V876.04M488.99 869.74V876.75M491.92 864.37V872.26M494.84 863.19V869.31M497.76 855.94V872.64M500.69 864.8V871.62M503.61 866.5V876.75M506.53 872.09V876.75M509.46 870.18V876.75M512.38 850.37V861.15M515.31 872.87V876.75M518.23 835.09V851.86M521.15 820.59V856.54M524.08 834.34V855.66M527 840.71V858.7M529.92 797.94V825.61M532.85 789.5V822.43M535.77 792.14V848.76M538.7 814.66V842.35M541.62 780.78V828.52M544.54 775.63V805.03M547.47 700.04V821.37M550.39 748.17V787.28M553.31 736.08V818.38M556.24 711.6V758.13M559.16 744.53V825.8M562.09 724.22V786.15M565.01 713.13V805.85M567.93 671.32V763.55M570.86 759.77V798.77M573.78 688.06V747.49M576.7 678.22V771.41M579.63 706.33V770.96M582.55 660.82V741.53M585.48 710.26V800.52M588.4 652.43V768.88M591.32 708.42V810.37M594.25 661.88V792.1M597.17 714.03V784.71M600.09 725.17V781.11M603.02 732.31V811.68M605.94 765.65V840.59M608.87 805.65V847.83M611.79 825.43V853.88M614.71 797.63V842.81M617.64 824.53V851.82M620.56 855.58V871.44M623.48 866.52V871.92M626.41 874.71V876.75" fill="none" stroke="#ffa500" stroke-width="1.0" stroke-dasharray="1 1.7" opacity="0.595"/><path d="M482.07 870.31h8M482.07 876.04h8M484.99 869.74h8M484.99 876.75h8M487.92 864.37h8M487.92 872.26h8M490.84 863.19h8M490.84 869.31h8M493.76 855.94h8M493.76 872.64h8M496.69 864.8h8M496.69 871.62h8M499.61 866.5h8M499.61 876.75h8M502.53 872.09h8M502.53 876.75h8M505.46 870.18h8M505.46 876.75h8M508.38 850.37h8M508.38 861.15h8M511.31 872.87h8M511.31 876.75h8M514.23 835.09h8M514.23 851.86h8M517.15 820.59h8M517.15 856.54h8M520.08 834.34h8M520.08 855.66h8M523 840.71h8M523 858.7h8M525.92 797.94h8M525.92 825.61h8M528.85 789.5h8M528.85 822.43h8M531.77 792.14h8M531.77 848.76h8M534.7 814.66h8M534.7 842.35h8M537.62 780.78h8M537.62 828.52h8M540.54 775.63h8M540.54 805.03h8M543.47 700.04h8M543.47 821.37h8M546.39 748.17h8M546.39 787.28h8M549.31 736.08h8M549.31 818.38h8M552.24 711.6h8M552.24 758.13h8M555.16 744.53h8M555.16 825.8h8M558.09 724.22h8M558.09 786.15h8M561.01 713.13h8M561.01 805.85h8M563.93 671.32h8M563.93 763.55h8M566.86 759.77h8M566.86 798.77h8M569.78 688.06h8M569.78 747.49h8M572.7 678.22h8M572.7 771.41h8M575.63 706.33h8M575.63 770.96h8M578.55 660.82h8M578.55 741.53h8M581.48 710.26h8M581.48 800.52h8M584.4 652.43h8M584.4 768.88h8M587.32 708.42h8M587.32 810.37h8M590.25 661.88h8M590.25 792.1h8M593.17 714.03h8M593.17 784.71h8M596.09 725.17h8M596.09 781.11h8M599.02 732.31h8M599.02 811.68h8M601.94 765.65h8M601.94 840.59h8M604.87 805.65h8M604.87 847.83h8M607.79 825.43h8M607.79 853.88h8M610.71 797.63h8M610.71 842.81h8M613.64 824.53h8M613.64 851.82h8M616.56 855.58h8M616.56 871.44h8M619.48 866.52h8M619.48 871.92h8M622.41 874.71h8M622.41 876.75h8" fill="none" stroke="#ffa500" stroke-width="1.0" opacity="0.7"/>
<path d="M423.9 876.75H485.34V873.18H486.8V876.75H488.26V873.36H489.72V873.92H491.18V868.31H492.65V874.55H494.11V866.25H495.57V872.66H497.03V864.29H498.49V867.67H499.96V868.21H501.42V876.75H502.88V872.55H504.34V867.69H505.8V874.86H507.26V875.57H508.73V875.4H510.19V858.62H511.65V855.76H513.11V858.25H514.57V876.4H516.04V851.62H517.5V843.48H518.96V872.35H520.42V838.57H521.88V850.07H523.35V845H524.81V822.83H526.27V849.7H527.73V837.44H529.19V811.78H530.65V814.71H532.12V805.96H533.58V831.45H535.04V820.45H536.5V811.43H537.96V828.51H539.43V796.13H540.89V804.65H542.35V784.6H543.81V790.33H545.27V803.97H546.74V760.71H548.2V796.58H549.66V767.73H551.12V746.18H552.58V777.23H554.04V737.93H555.51V734.86H556.97V767.13H558.43V785.16H559.89V762.86H561.35V755.19H562.82V726.45H564.28V759.49H565.74V715.39H567.2V717.43H568.66V701.85H570.13V779.27H571.59V733.8H573.05V717.78H574.51V747.02H575.97V724.81H577.43V748.04H578.9V738.64H580.36V744.94H581.82V701.18H583.28V710.65H584.74V755.39H586.21V747.12H587.67V710.66H589.13V780.34H590.59V759.39H592.05V788.44H593.52V726.99H594.98V774.76H596.44V749.37H597.9V784.52H599.36V753.14H600.83V775.16H602.29V771.99H603.75V793.26H605.21V803.12H606.67V774.16H608.13V826.74H609.6V786.66H611.06V839.66H612.52V798.04H613.98V820.22H615.44V817.78H616.91V838.17H618.37V835.06H619.83V863.51H621.29V842.69H622.75V869.22H624.21V862.59H625.68V876.08H627.14V876.11H628.6V876.75H659.3H659.3" fill="none" stroke="#ffa500" stroke-width="2.8" stroke-linejoin="miter"/>
</g>
<path d="M440.02 877.2v-28M440.02 580.8v28M513.11 877.2v-28M513.11 580.8v28M586.21 877.2v-28M586.21 580.8v28M476.57 877.2v-14.7M476.57 580.8v14.7M549.66 877.2v-14.7M549.66 580.8v14.7M622.75 877.2v-14.7M622.75 580.8v14.7M425.4 811.33h28M659.3 811.33h-28M425.4 745.47h28M659.3 745.47h-28M425.4 679.6h28M659.3 679.6h-28M425.4 613.73h28M659.3 613.73h-28M425.4 844.27h14.7M659.3 844.27h-14.7M425.4 778.4h14.7M659.3 778.4h-14.7M425.4 712.53h14.7M659.3 712.53h-14.7M425.4 646.67h14.7M659.3 646.67h-14.7" fill="none" stroke="#000" stroke-width="2.1"/>
<rect x="425.4" y="580.8" width="233.9" height="296.4" fill="none" stroke="#000" stroke-width="2.1"/>
<g transform="translate(0 918.1) scale(1 1.025) translate(0 -918.1)"><text x="419.96" y="918.1">50</text></g>
<g transform="translate(0 918.1) scale(1 1.025) translate(0 -918.1)"><path transform="translate(482.63 918.1) scale(0.03750 -0.03750)" d="M359 0L272 0L272 501L101 501L101 563C192 566 262 610 292 702L359 702Z" stroke-width="9.33"/><text x="503.48" y="918.1">00</text></g>
<g transform="translate(0 918.1) scale(1 1.025) translate(0 -918.1)"><path transform="translate(555.72 918.1) scale(0.03750 -0.03750)" d="M359 0L272 0L272 501L101 501L101 563C192 566 262 610 292 702L359 702Z" stroke-width="9.33"/><text x="576.58" y="918.1">50</text></g>
<g transform="translate(0 918.1) scale(1 1.025) translate(0 -918.1)"><text x="628.82" y="918.1">200</text></g>
<g transform="translate(0 890.9) scale(1 1.025) translate(0 -890.9)"><text x="392.64" y="890.9">0</text></g>
<g transform="translate(0 825.03) scale(1 1.025) translate(0 -825.03)"><text x="346.42" y="825.03">0.0</text><path transform="translate(398.54 825.03) scale(0.03750 -0.03750)" d="M359 0L272 0L272 501L101 501L101 563C192 566 262 610 292 702L359 702Z" stroke-width="9.33"/></g>
<g transform="translate(0 759.17) scale(1 1.025) translate(0 -759.17)"><text x="340.52" y="759.17">0.02</text></g>
<g transform="translate(0 693.3) scale(1 1.025) translate(0 -693.3)"><text x="340.52" y="693.3">0.03</text></g>
<g transform="translate(0 627.43) scale(1 1.025) translate(0 -627.43)"><text x="340.52" y="627.43">0.04</text></g>
<text x="544.35" y="960.6" text-anchor="middle">Angle (deg)</text>
<clipPath id="c752_580"><rect x="750.6" y="580.8" width="237.9" height="297.4"/></clipPath>
<g clip-path="url(#c752_580)">
<path d="M752.6 876.75H796.46V876.69H797.92V876.75H799.38V876.56H800.84V876.27H802.3V876.75H805.23V876.7H806.69V875.44H808.15V875.45H809.61V875.79H811.08V875.52H812.54V875H814V876.62H815.46V875.95H816.92V876.52H818.38V875.11H819.85V875.32H821.31V874.63H822.77V876.2H824.23V874.23H825.69V874.89H827.16V874.65H828.62V874.23H830.08V873.4H831.54V875.6H833V872.9H834.47V873.74H835.93V872.92H837.39V871.7H838.85V874.59H840.31V871.36H841.77V870.6H843.24V868.11H844.7V865.26H846.16V863.94H847.62V862.36H849.08V856.27H850.55V852.75H852.01V849.56H853.47V847.91H854.93V837.82H856.39V837.21H857.86V831.85H859.32V827.28H860.78V821.92H862.24V809.19H863.7V807.74H865.16V804.96H866.63V800H868.09V792.24H869.55V786.61H871.01V776.66H872.47V783.37H873.94V767.04H875.4V764.03H876.86V752.59H878.32V758.03H879.78V747.6H881.25V752.46H882.71V729.65H884.17V736.35H885.63V727.27H887.09V712.67H888.55V722.96H890.02V722.14H891.48V698.46H892.94V702.97H894.4V709.27H895.86V715.55H897.33V714.81H898.79V737H900.25V742.65H901.71V733.02H903.17V725.82H904.63V735.08H906.1V739.36H907.56V735.41H909.02V733.35H910.48V741.33H911.94V740.41H913.41V739.88H914.87V751.75H916.33V760.43H917.79V766.66H919.25V766.57H920.72V770.7H922.18V767.03H923.64V774.76H925.1V783.23H926.56V787.76H928.03V787.24H929.49V798.04H930.95V799.25H932.41V812.25H933.87V811.4H935.33V820.6H936.8V827.3H938.26V834.64H939.72V831.22H941.18V835.09H942.64V839.66H944.11V847.38H945.57V851.99H947.03V859.67H948.49V860.29H949.95V866.82H951.41V869.11H952.88V872.92H954.34V875.17H955.8V876.75H986.5H986.5Z" fill="#dcdcdc" stroke="none"/>
<path d="M797.19 875.94V876.75M800.11 874.36V876.75M805.96 874.01V876.75M808.88 874.55V876.35M811.81 874.78V876.27M814.73 876.17V876.75M817.65 875.23V876.75M820.58 872.5V876.75M823.5 873.04V876.75M826.42 874.49V875.29M829.35 872.8V875.67M832.27 872.68V876.75M835.2 870.75V876.72M838.12 870.86V872.55M841.04 870.73V871.99M843.97 865.61V870.61M846.89 861.11V866.78M849.81 852.69V859.84M852.74 845.19V853.92M855.66 833.93V841.71M858.59 826.98V836.72M861.51 818.2V825.64M864.43 800.68V814.79M867.36 795.83V804.16M870.28 781.7V791.53M873.2 776.69V790.04M876.13 751.84V776.23M879.05 751.68V764.39M881.98 735.68V769.24M884.9 718.99V753.71M887.82 693.58V731.75M890.75 712.7V731.59M893.67 694.18V711.75M896.59 703.22V727.88M899.52 723.93V750.07M902.44 721.31V744.73M905.37 724.6V745.56M908.29 724.3V746.53M911.21 734.26V748.4M914.14 719.55V760.21M917.06 752.8V768.05M919.98 750.81V782.33M922.91 761.4V772.65M925.83 776.65V789.8M928.76 778.99V795.48M931.68 792.03V806.48M934.6 805.17V817.64M937.53 823.86V830.75M940.45 824.4V838.04M943.37 834.61V844.7M946.3 847.05V856.92M949.22 857.14V863.43M952.15 868.01V870.21M955.07 874.27V876.07" fill="none" stroke="#000" stroke-width="1.0" stroke-dasharray="1 1.7" opacity="0.527"/><path d="M793.19 875.94h8M793.19 876.75h8M796.11 874.36h8M796.11 876.75h8M801.96 874.01h8M801.96 876.75h8M804.88 874.55h8M804.88 876.35h8M807.81 874.78h8M807.81 876.27h8M810.73 876.17h8M810.73 876.75h8M813.65 875.23h8M813.65 876.75h8M816.58 872.5h8M816.58 876.75h8M819.5 873.04h8M819.5 876.75h8M822.42 874.49h8M822.42 875.29h8M825.35 872.8h8M825.35 875.67h8M828.27 872.68h8M828.27 876.75h8M831.2 870.75h8M831.2 876.72h8M834.12 870.86h8M834.12 872.55h8M837.04 870.73h8M837.04 871.99h8M839.97 865.61h8M839.97 870.61h8M842.89 861.11h8M842.89 866.78h8M845.81 852.69h8M845.81 859.84h8M848.74 845.19h8M848.74 853.92h8M851.66 833.93h8M851.66 841.71h8M854.59 826.98h8M854.59 836.72h8M857.51 818.2h8M857.51 825.64h8M860.43 800.68h8M860.43 814.79h8M863.36 795.83h8M863.36 804.16h8M866.28 781.7h8M866.28 791.53h8M869.2 776.69h8M869.2 790.04h8M872.13 751.84h8M872.13 776.23h8M875.05 751.68h8M875.05 764.39h8M877.98 735.68h8M877.98 769.24h8M880.9 718.99h8M880.9 753.71h8M883.82 693.58h8M883.82 731.75h8M886.75 712.7h8M886.75 731.59h8M889.67 694.18h8M889.67 711.75h8M892.59 703.22h8M892.59 727.88h8M895.52 723.93h8M895.52 750.07h8M898.44 721.31h8M898.44 744.73h8M901.37 724.6h8M901.37 745.56h8M904.29 724.3h8M904.29 746.53h8M907.21 734.26h8M907.21 748.4h8M910.14 719.55h8M910.14 760.21h8M913.06 752.8h8M913.06 768.05h8M915.98 750.81h8M915.98 782.33h8M918.91 761.4h8M918.91 772.65h8M921.83 776.65h8M921.83 789.8h8M924.76 778.99h8M924.76 795.48h8M927.68 792.03h8M927.68 806.48h8M930.6 805.17h8M930.6 817.64h8M933.53 823.86h8M933.53 830.75h8M936.45 824.4h8M936.45 838.04h8M939.37 834.61h8M939.37 844.7h8M942.3 847.05h8M942.3 856.92h8M945.22 857.14h8M945.22 863.43h8M948.15 868.01h8M948.15 870.21h8M951.07 874.27h8M951.07 876.07h8" fill="none" stroke="#000" stroke-width="1.0" opacity="0.62"/>
<path d="M751.1 876.75H796.46V876.69H797.92V876.75H799.38V876.56H800.84V876.27H802.3V876.75H805.23V876.7H806.69V875.44H808.15V875.45H809.61V875.79H811.08V875.52H812.54V875H814V876.62H815.46V875.95H816.92V876.52H818.38V875.11H819.85V875.32H821.31V874.63H822.77V876.2H824.23V874.23H825.69V874.89H827.16V874.65H828.62V874.23H830.08V873.4H831.54V875.6H833V872.9H834.47V873.74H835.93V872.92H837.39V871.7H838.85V874.59H840.31V871.36H841.77V870.6H843.24V868.11H844.7V865.26H846.16V863.94H847.62V862.36H849.08V856.27H850.55V852.75H852.01V849.56H853.47V847.91H854.93V837.82H856.39V837.21H857.86V831.85H859.32V827.28H860.78V821.92H862.24V809.19H863.7V807.74H865.16V804.96H866.63V800H868.09V792.24H869.55V786.61H871.01V776.66H872.47V783.37H873.94V767.04H875.4V764.03H876.86V752.59H878.32V758.03H879.78V747.6H881.25V752.46H882.71V729.65H884.17V736.35H885.63V727.27H887.09V712.67H888.55V722.96H890.02V722.14H891.48V698.46H892.94V702.97H894.4V709.27H895.86V715.55H897.33V714.81H898.79V737H900.25V742.65H901.71V733.02H903.17V725.82H904.63V735.08H906.1V739.36H907.56V735.41H909.02V733.35H910.48V741.33H911.94V740.41H913.41V739.88H914.87V751.75H916.33V760.43H917.79V766.66H919.25V766.57H920.72V770.7H922.18V767.03H923.64V774.76H925.1V783.23H926.56V787.76H928.03V787.24H929.49V798.04H930.95V799.25H932.41V812.25H933.87V811.4H935.33V820.6H936.8V827.3H938.26V834.64H939.72V831.22H941.18V835.09H942.64V839.66H944.11V847.38H945.57V851.99H947.03V859.67H948.49V860.29H949.95V866.82H951.41V869.11H952.88V872.92H954.34V875.17H955.8V876.75H986.5H986.5" fill="none" stroke="#000" stroke-width="2.8" stroke-linejoin="miter"/>
<path d="M798.65 873.85V876.75M801.57 874.5V876.75M804.5 874.61V876.75M807.42 872.73V876.75M810.34 875.6V876.75M813.27 875.15V876.75M816.19 873.27V876.75M819.12 873.43V876.75M822.04 872.94V876.75M824.96 874.98V876.21M827.89 874.37V876.61M830.81 872.99V876.75M833.73 873.27V876.75M836.66 871.62V874.28M839.58 871.27V876.48M842.51 870.14V876.28M845.43 869.25V871.31M848.35 863.27V870.69M851.28 859.6V862.92M854.2 853.58V860.76M857.12 850.5V856.49M860.05 847.62V851.72M862.97 837.31V848.84M865.9 822.74V838.29M868.82 816.31V830.1M871.74 806.55V817.94M874.67 783.12V800.41M877.59 774.5V791.77M880.51 754.72V783.89M883.44 747.03V760.56M886.36 734.72V760.57M889.29 726.8V749.09M892.21 718.89V735.7M895.13 718.45V736.21M898.06 701.35V715.91M900.98 704.05V724.52M903.9 690.73V713.39M906.83 697.67V724.26M909.75 709.33V723.4M912.68 716.88V737.84M915.6 712.87V736.03M918.52 721.04V741.54M921.45 727.71V768.31M924.37 733.38V753.88M927.29 754.4V774.55M930.22 770.74V782.87M933.14 771.55V791.29M936.07 794.27V806.39M938.99 805.58V816.82M941.91 816.51V825.35M944.84 829.49V839.54M947.76 843.33V846.92M950.68 852.81V855.16M953.61 860.21V867.46M956.53 872.28V875.66" fill="none" stroke="#ffa500" stroke-width="1.0" stroke-dasharray="1 1.7" opacity="0.595"/><path d="M794.65 873.85h8M794.65 876.75h8M797.57 874.5h8M797.57 876.75h8M800.5 874.61h8M800.5 876.75h8M803.42 872.73h8M803.42 876.75h8M806.34 875.6h8M806.34 876.75h8M809.27 875.15h8M809.27 876.75h8M812.19 873.27h8M812.19 876.75h8M815.12 873.43h8M815.12 876.75h8M818.04 872.94h8M818.04 876.75h8M820.96 874.98h8M820.96 876.21h8M823.89 874.37h8M823.89 876.61h8M826.81 872.99h8M826.81 876.75h8M829.73 873.27h8M829.73 876.75h8M832.66 871.62h8M832.66 874.28h8M835.58 871.27h8M835.58 876.48h8M838.51 870.14h8M838.51 876.28h8M841.43 869.25h8M841.43 871.31h8M844.35 863.27h8M844.35 870.69h8M847.28 859.6h8M847.28 862.92h8M850.2 853.58h8M850.2 860.76h8M853.12 850.5h8M853.12 856.49h8M856.05 847.62h8M856.05 851.72h8M858.97 837.31h8M858.97 848.84h8M861.9 822.74h8M861.9 838.29h8M864.82 816.31h8M864.82 830.1h8M867.74 806.55h8M867.74 817.94h8M870.67 783.12h8M870.67 800.41h8M873.59 774.5h8M873.59 791.77h8M876.51 754.72h8M876.51 783.89h8M879.44 747.03h8M879.44 760.56h8M882.36 734.72h8M882.36 760.57h8M885.29 726.8h8M885.29 749.09h8M888.21 718.89h8M888.21 735.7h8M891.13 718.45h8M891.13 736.21h8M894.06 701.35h8M894.06 715.91h8M896.98 704.05h8M896.98 724.52h8M899.9 690.73h8M899.9 713.39h8M902.83 697.67h8M902.83 724.26h8M905.75 709.33h8M905.75 723.4h8M908.68 716.88h8M908.68 737.84h8M911.6 712.87h8M911.6 736.03h8M914.52 721.04h8M914.52 741.54h8M917.45 727.71h8M917.45 768.31h8M920.37 733.38h8M920.37 753.88h8M923.29 754.4h8M923.29 774.55h8M926.22 770.74h8M926.22 782.87h8M929.14 771.55h8M929.14 791.29h8M932.07 794.27h8M932.07 806.39h8M934.99 805.58h8M934.99 816.82h8M937.91 816.51h8M937.91 825.35h8M940.84 829.49h8M940.84 839.54h8M943.76 843.33h8M943.76 846.92h8M946.68 852.81h8M946.68 855.16h8M949.61 860.21h8M949.61 867.46h8M952.53 872.28h8M952.53 875.66h8" fill="none" stroke="#ffa500" stroke-width="1.0" opacity="0.7"/>
<path d="M751.1 876.75H796.46V876.6H797.92V876.74H799.38V876.75H800.84V876.55H802.3V876.42H803.77V876.32H805.23V876.66H806.69V875.91H808.15V876.23H809.61V876.48H811.08V875.76H812.54V876.11H814V875.96H815.46V875.95H816.92V875.72H818.38V875.48H819.85V874.97H821.31V875.89H822.77V876.52H824.23V875.6H825.69V874.73H827.16V875.49H828.62V874.48H830.08V875.33H831.54V874.8H833V875.72H834.47V874.67H835.93V872.95H837.39V874.07H838.85V873.87H840.31V873H841.77V873.21H843.24V871.83H844.7V870.28H846.16V871.4H847.62V866.98H849.08V869.23H850.55V861.26H852.01V860.6H853.47V857.17H854.93V853.35H856.39V853.49H857.86V847.29H859.32V849.67H860.78V845.03H862.24V843.08H863.7V833.31H865.16V830.51H866.63V820.66H868.09V823.2H869.55V808.98H871.01V812.24H872.47V800.13H873.94V791.76H875.4V790.72H876.86V783.13H878.32V782.87H879.78V769.31H881.25V767.06H882.71V753.8H884.17V748.37H885.63V747.64H887.09V737.54H888.55V737.94H890.02V738.18H891.48V727.3H892.94V733.88H894.4V727.33H895.86V722.82H897.33V708.63H898.79V715.83H900.25V714.28H901.71V712.63H903.17V702.06H904.63V725.81H906.1V710.96H907.56V731.48H909.02V716.37H910.48V731.11H911.94V727.36H913.41V735.06H914.87V724.45H916.33V744.8H917.79V731.29H919.25V743.04H920.72V748.01H922.18V744H923.64V743.63H925.1V753.4H926.56V764.47H928.03V760.55H929.49V776.81H930.95V776.5H932.41V781.42H933.87V791.73H935.33V800.33H936.8V802.27H938.26V811.2H939.72V813.17H941.18V820.93H942.64V830.65H944.11V834.51H945.57V833.08H947.03V845.12H948.49V852.8H949.95V853.98H951.41V855.46H952.88V863.83H954.34V870.43H955.8V873.97H957.26V876.75H986.5H986.5" fill="none" stroke="#ffa500" stroke-width="2.8" stroke-linejoin="miter"/>
</g>
<path d="M767.22 877.2v-28M767.22 580.8v28M840.31 877.2v-28M840.31 580.8v28M913.41 877.2v-28M913.41 580.8v28M803.77 877.2v-14.7M803.77 580.8v14.7M876.86 877.2v-14.7M876.86 580.8v14.7M949.95 877.2v-14.7M949.95 580.8v14.7M752.6 811.33h28M986.5 811.33h-28M752.6 745.47h28M986.5 745.47h-28M752.6 679.6h28M986.5 679.6h-28M752.6 613.73h28M986.5 613.73h-28M752.6 844.27h14.7M986.5 844.27h-14.7M752.6 778.4h14.7M986.5 778.4h-14.7M752.6 712.53h14.7M986.5 712.53h-14.7M752.6 646.67h14.7M986.5 646.67h-14.7" fill="none" stroke="#000" stroke-width="2.1"/>
<rect x="752.6" y="580.8" width="233.9" height="296.4" fill="none" stroke="#000" stroke-width="2.1"/>
<g transform="translate(0 918.1) scale(1 1.025) translate(0 -918.1)"><text x="747.16" y="918.1">50</text></g>
<g transform="translate(0 918.1) scale(1 1.025) translate(0 -918.1)"><path transform="translate(809.83 918.1) scale(0.03750 -0.03750)" d="M359 0L272 0L272 501L101 501L101 563C192 566 262 610 292 702L359 702Z" stroke-width="9.33"/><text x="830.68" y="918.1">00</text></g>
<g transform="translate(0 918.1) scale(1 1.025) translate(0 -918.1)"><path transform="translate(882.92 918.1) scale(0.03750 -0.03750)" d="M359 0L272 0L272 501L101 501L101 563C192 566 262 610 292 702L359 702Z" stroke-width="9.33"/><text x="903.78" y="918.1">50</text></g>
<g transform="translate(0 918.1) scale(1 1.025) translate(0 -918.1)"><text x="956.02" y="918.1">200</text></g>
<g transform="translate(0 890.9) scale(1 1.025) translate(0 -890.9)"><text x="719.84" y="890.9">0</text></g>
<g transform="translate(0 825.03) scale(1 1.025) translate(0 -825.03)"><text x="673.62" y="825.03">0.0</text><path transform="translate(725.74 825.03) scale(0.03750 -0.03750)" d="M359 0L272 0L272 501L101 501L101 563C192 566 262 610 292 702L359 702Z" stroke-width="9.33"/></g>
<g transform="translate(0 759.17) scale(1 1.025) translate(0 -759.17)"><text x="667.72" y="759.17">0.02</text></g>
<g transform="translate(0 693.3) scale(1 1.025) translate(0 -693.3)"><text x="667.72" y="693.3">0.03</text></g>
<g transform="translate(0 627.43) scale(1 1.025) translate(0 -627.43)"><text x="667.72" y="627.43">0.04</text></g>
<text x="871.55" y="960.6" text-anchor="middle">Angle (deg)</text>
<clipPath id="c1079_580"><rect x="1077.7" y="580.8" width="237.9" height="297.4"/></clipPath>
<g clip-path="url(#c1079_580)">
<path d="M1079.7 876.75H1108.94V874H1110.4V872.5H1111.86V875.65H1113.32V873.7H1114.79V871.51H1116.25V876.75H1117.71V868.01H1119.17V876.75H1120.63V870.66H1122.09V876.75H1123.56V868.93H1125.02V866.87H1126.48V865.52H1127.94V868.01H1129.4V875.19H1130.87V867.22H1132.33V864.03H1133.79V856.06H1135.25V864.23H1136.71V853.75H1138.17V857.52H1139.64V860.27H1141.1V840.16H1142.56V846.25H1144.02V847.1H1145.48V837.24H1146.95V827.93H1148.41V839.76H1149.87V846.07H1151.33V820.31H1152.79V850.39H1154.26V815.98H1155.72V805.04H1157.18V810.21H1158.64V804.76H1160.1V809.92H1161.57V791.45H1163.03V754.67H1164.49V783.79H1165.95V752.54H1167.41V779.01H1168.87V746.89H1170.34V738.44H1171.8V751.4H1173.26V721.61H1174.72V729.14H1176.18V723.01H1177.65V723.66H1179.11V722.75H1180.57V696.08H1182.03V707.92H1183.49V727.34H1184.95V674.47H1186.42V697.02H1187.88V734.68H1189.34V689.1H1190.8V734.14H1192.26V716.99H1193.73V670.19H1195.19V725.92H1196.65V652.76H1198.11V721.3H1199.57V671.14H1201.04V749.72H1202.5V724.46H1203.96V771.69H1205.42V761.38H1206.88V765.66H1208.35V754.34H1209.81V788.59H1211.27V758.02H1212.73V796.88H1214.19V766.73H1215.65V793.41H1217.12V798.87H1218.58V801.68H1220.04V795.59H1221.5V834.6H1222.96V796.9H1224.43V831.64H1225.89V814.83H1227.35V823.62H1228.81V852.27H1230.27V841.23H1231.74V854.41H1233.2V853.21H1234.66V844.86H1236.12V848.03H1237.58V851.24H1239.04V864.97H1240.51V866.16H1241.97V864.79H1243.43V864.31H1244.89V859.71H1246.35V862.81H1247.82V874.13H1249.28V861.18H1250.74V862.82H1252.2V873.04H1253.66V871.69H1255.12V867.95H1256.59V874.42H1258.05V869.5H1259.51V870.29H1260.97V864.65H1262.43V867.39H1263.9V876.75H1265.36V865.88H1266.82V875.24H1268.28V867.77H1269.74V866.98H1271.21V868.48H1272.67V873.58H1274.13V868.74H1275.59V873.22H1277.05V871.47H1278.52V870.77H1279.98V872.76H1281.44V871.67H1282.9V876.75H1284.36V875.57H1285.82V876.55H1287.29V875.17H1288.75V876.75H1313.6H1313.6Z" fill="#dcdcdc" stroke="none"/>
<path d="M1109.67 866.66V876.75M1112.59 870.11V876.75M1115.52 866.69V876.34M1118.44 859.69V876.34M1121.36 862.83V876.75M1124.29 863.3V874.56M1127.21 856.57V874.47M1130.13 872.61V876.75M1133.06 855.78V872.28M1135.98 854.05V874.42M1138.91 851.19V863.86M1141.83 822.56V857.77M1144.75 829.72V864.49M1147.68 811.02V844.84M1150.6 833.96V858.19M1153.52 838.59V862.19M1156.45 792.9V817.18M1159.37 789.24V820.27M1162.3 748.65V834.26M1165.22 749.52V818.06M1168.14 744.8V813.22M1171.07 701.37V775.51M1173.99 673.27V769.95M1176.91 691.86V754.16M1179.84 686.35V759.15M1182.76 667.03V748.8M1185.69 640.11V708.83M1188.61 684.13V785.22M1191.53 690.82V777.45M1194.46 637.78V702.61M1197.38 603.63V701.89M1200.3 629.32V712.96M1203.23 692.88V756.05M1206.15 737.69V785.06M1209.08 732.08V776.59M1212 714.11V801.93M1214.92 741.15V792.31M1217.85 763.59V834.15M1220.77 775.67V815.52M1223.69 766.94V826.85M1226.62 787.53V842.14M1229.54 839.94V864.6M1232.47 845.4V863.43M1235.39 828.52V861.19M1238.31 842.41V860.07M1241.24 860.89V871.43M1244.16 857.86V870.77M1247.08 853.32V872.3M1250.01 849.35V873.01M1252.93 870.88V875.2M1255.86 866.13V869.76M1258.78 864.34V874.67M1261.7 858.87V870.44M1267.55 869.41V876.75M1270.47 859.12V874.84M1273.4 869.61V876.75M1276.32 867.08V876.75M1279.25 867.92V873.63M1282.17 865.41V876.75M1285.09 873.97V876.75M1288.02 870.8V876.75" fill="none" stroke="#000" stroke-width="1.0" stroke-dasharray="1 1.7" opacity="0.527"/><path d="M1105.67 866.66h8M1105.67 876.75h8M1108.59 870.11h8M1108.59 876.75h8M1111.52 866.69h8M1111.52 876.34h8M1114.44 859.69h8M1114.44 876.34h8M1117.36 862.83h8M1117.36 876.75h8M1120.29 863.3h8M1120.29 874.56h8M1123.21 856.57h8M1123.21 874.47h8M1126.13 872.61h8M1126.13 876.75h8M1129.06 855.78h8M1129.06 872.28h8M1131.98 854.05h8M1131.98 874.42h8M1134.91 851.19h8M1134.91 863.86h8M1137.83 822.56h8M1137.83 857.77h8M1140.75 829.72h8M1140.75 864.49h8M1143.68 811.02h8M1143.68 844.84h8M1146.6 833.96h8M1146.6 858.19h8M1149.52 838.59h8M1149.52 862.19h8M1152.45 792.9h8M1152.45 817.18h8M1155.37 789.24h8M1155.37 820.27h8M1158.3 748.65h8M1158.3 834.26h8M1161.22 749.52h8M1161.22 818.06h8M1164.14 744.8h8M1164.14 813.22h8M1167.07 701.37h8M1167.07 775.51h8M1169.99 673.27h8M1169.99 769.95h8M1172.91 691.86h8M1172.91 754.16h8M1175.84 686.35h8M1175.84 759.15h8M1178.76 667.03h8M1178.76 748.8h8M1181.69 640.11h8M1181.69 708.83h8M1184.61 684.13h8M1184.61 785.22h8M1187.53 690.82h8M1187.53 777.45h8M1190.46 637.78h8M1190.46 702.61h8M1193.38 603.63h8M1193.38 701.89h8M1196.3 629.32h8M1196.3 712.96h8M1199.23 692.88h8M1199.23 756.05h8M1202.15 737.69h8M1202.15 785.06h8M1205.08 732.08h8M1205.08 776.59h8M1208 714.11h8M1208 801.93h8M1210.92 741.15h8M1210.92 792.31h8M1213.85 763.59h8M1213.85 834.15h8M1216.77 775.67h8M1216.77 815.52h8M1219.69 766.94h8M1219.69 826.85h8M1222.62 787.53h8M1222.62 842.14h8M1225.54 839.94h8M1225.54 864.6h8M1228.47 845.4h8M1228.47 863.43h8M1231.39 828.52h8M1231.39 861.19h8M1234.31 842.41h8M1234.31 860.07h8M1237.24 860.89h8M1237.24 871.43h8M1240.16 857.86h8M1240.16 870.77h8M1243.08 853.32h8M1243.08 872.3h8M1246.01 849.35h8M1246.01 873.01h8M1248.93 870.88h8M1248.93 875.2h8M1251.86 866.13h8M1251.86 869.76h8M1254.78 864.34h8M1254.78 874.67h8M1257.7 858.87h8M1257.7 870.44h8M1263.55 869.41h8M1263.55 876.75h8M1266.47 859.12h8M1266.47 874.84h8M1269.4 869.61h8M1269.4 876.75h8M1272.32 867.08h8M1272.32 876.75h8M1275.25 867.92h8M1275.25 873.63h8M1278.17 865.41h8M1278.17 876.75h8M1281.09 873.97h8M1281.09 876.75h8M1284.02 870.8h8M1284.02 876.75h8" fill="none" stroke="#000" stroke-width="1.0" opacity="0.62"/>
<path d="M1078.2 876.75H1108.94V874H1110.4V872.5H1111.86V875.65H1113.32V873.7H1114.79V871.51H1116.25V876.75H1117.71V868.01H1119.17V876.75H1120.63V870.66H1122.09V876.75H1123.56V868.93H1125.02V866.87H1126.48V865.52H1127.94V868.01H1129.4V875.19H1130.87V867.22H1132.33V864.03H1133.79V856.06H1135.25V864.23H1136.71V853.75H1138.17V857.52H1139.64V860.27H1141.1V840.16H1142.56V846.25H1144.02V847.1H1145.48V837.24H1146.95V827.93H1148.41V839.76H1149.87V846.07H1151.33V820.31H1152.79V850.39H1154.26V815.98H1155.72V805.04H1157.18V810.21H1158.64V804.76H1160.1V809.92H1161.57V791.45H1163.03V754.67H1164.49V783.79H1165.95V752.54H1167.41V779.01H1168.87V746.89H1170.34V738.44H1171.8V751.4H1173.26V721.61H1174.72V729.14H1176.18V723.01H1177.65V723.66H1179.11V722.75H1180.57V696.08H1182.03V707.92H1183.49V727.34H1184.95V674.47H1186.42V697.02H1187.88V734.68H1189.34V689.1H1190.8V734.14H1192.26V716.99H1193.73V670.19H1195.19V725.92H1196.65V652.76H1198.11V721.3H1199.57V671.14H1201.04V749.72H1202.5V724.46H1203.96V771.69H1205.42V761.38H1206.88V765.66H1208.35V754.34H1209.81V788.59H1211.27V758.02H1212.73V796.88H1214.19V766.73H1215.65V793.41H1217.12V798.87H1218.58V801.68H1220.04V795.59H1221.5V834.6H1222.96V796.9H1224.43V831.64H1225.89V814.83H1227.35V823.62H1228.81V852.27H1230.27V841.23H1231.74V854.41H1233.2V853.21H1234.66V844.86H1236.12V848.03H1237.58V851.24H1239.04V864.97H1240.51V866.16H1241.97V864.79H1243.43V864.31H1244.89V859.71H1246.35V862.81H1247.82V874.13H1249.28V861.18H1250.74V862.82H1252.2V873.04H1253.66V871.69H1255.12V867.95H1256.59V874.42H1258.05V869.5H1259.51V870.29H1260.97V864.65H1262.43V867.39H1263.9V876.75H1265.36V865.88H1266.82V875.24H1268.28V867.77H1269.74V866.98H1271.21V868.48H1272.67V873.58H1274.13V868.74H1275.59V873.22H1277.05V871.47H1278.52V870.77H1279.98V872.76H1281.44V871.67H1282.9V876.75H1284.36V875.57H1285.82V876.55H1287.29V875.17H1288.75V876.75H1313.6H1313.6" fill="none" stroke="#000" stroke-width="2.8" stroke-linejoin="miter"/>
<path d="M1114.05 870.86V874.95M1116.98 855.43V871.14M1119.9 866.18V872.3M1122.83 856.59V871.03M1125.75 838.2V869.83M1128.67 865.2V868.31M1131.6 857.94V865.03M1134.52 848.78V875.56M1137.44 844.11V863.27M1140.37 864.43V870.58M1143.29 854.21V866.54M1146.22 841.09V867.01M1149.14 820.03V851.22M1152.06 831.18V849.91M1154.99 830.67V860.78M1157.91 814.52V847.59M1160.83 749.1V801.43M1163.76 771.92V811.75M1166.68 741.95V815.03M1169.61 738.06V833.62M1172.53 747.83V799.62M1175.45 661.12V728.58M1178.38 628.62V711.84M1181.3 675.08V736.35M1184.22 564.49V732.99M1187.15 696.26V756.59M1190.07 611.6V774.15M1193 635.7V793.67M1195.92 630.33V705.49M1198.84 652.7V771.06M1201.77 719.95V770.69M1204.69 687.93V767.51M1207.61 700V811.84M1210.54 731.32V803.45M1213.46 726.74V790.62M1216.39 755.02V829.89M1219.31 796.81V825.03M1222.23 812.32V836.54M1225.16 808.64V832.27M1228.08 849.72V867.44M1231 843.3V854.85M1233.93 847.21V863.1M1236.85 855.77V871.85M1239.78 857.79V872.45M1242.7 860V873.54M1245.62 860.04V873.42M1248.55 862.74V872.73M1251.47 864.87V869.12M1254.39 859.21V874.47M1257.32 867.41V874.29M1260.24 866.1V876.75M1263.17 866.34V873.17M1266.09 871.84V875.84M1269.01 871.11V876.75" fill="none" stroke="#ffa500" stroke-width="1.0" stroke-dasharray="1 1.7" opacity="0.595"/><path d="M1110.05 870.86h8M1110.05 874.95h8M1112.98 855.43h8M1112.98 871.14h8M1115.9 866.18h8M1115.9 872.3h8M1118.83 856.59h8M1118.83 871.03h8M1121.75 838.2h8M1121.75 869.83h8M1124.67 865.2h8M1124.67 868.31h8M1127.6 857.94h8M1127.6 865.03h8M1130.52 848.78h8M1130.52 875.56h8M1133.44 844.11h8M1133.44 863.27h8M1136.37 864.43h8M1136.37 870.58h8M1139.29 854.21h8M1139.29 866.54h8M1142.22 841.09h8M1142.22 867.01h8M1145.14 820.03h8M1145.14 851.22h8M1148.06 831.18h8M1148.06 849.91h8M1150.99 830.67h8M1150.99 860.78h8M1153.91 814.52h8M1153.91 847.59h8M1156.83 749.1h8M1156.83 801.43h8M1159.76 771.92h8M1159.76 811.75h8M1162.68 741.95h8M1162.68 815.03h8M1165.61 738.06h8M1165.61 833.62h8M1168.53 747.83h8M1168.53 799.62h8M1171.45 661.12h8M1171.45 728.58h8M1174.38 628.62h8M1174.38 711.84h8M1177.3 675.08h8M1177.3 736.35h8M1180.22 564.49h8M1180.22 732.99h8M1183.15 696.26h8M1183.15 756.59h8M1186.07 611.6h8M1186.07 774.15h8M1189 635.7h8M1189 793.67h8M1191.92 630.33h8M1191.92 705.49h8M1194.84 652.7h8M1194.84 771.06h8M1197.77 719.95h8M1197.77 770.69h8M1200.69 687.93h8M1200.69 767.51h8M1203.61 700h8M1203.61 811.84h8M1206.54 731.32h8M1206.54 803.45h8M1209.46 726.74h8M1209.46 790.62h8M1212.39 755.02h8M1212.39 829.89h8M1215.31 796.81h8M1215.31 825.03h8M1218.23 812.32h8M1218.23 836.54h8M1221.16 808.64h8M1221.16 832.27h8M1224.08 849.72h8M1224.08 867.44h8M1227 843.3h8M1227 854.85h8M1229.93 847.21h8M1229.93 863.1h8M1232.85 855.77h8M1232.85 871.85h8M1235.78 857.79h8M1235.78 872.45h8M1238.7 860h8M1238.7 873.54h8M1241.62 860.04h8M1241.62 873.42h8M1244.55 862.74h8M1244.55 872.73h8M1247.47 864.87h8M1247.47 869.12h8M1250.39 859.21h8M1250.39 874.47h8M1253.32 867.41h8M1253.32 874.29h8M1256.24 866.1h8M1256.24 876.75h8M1259.17 866.34h8M1259.17 873.17h8M1262.09 871.84h8M1262.09 875.84h8M1265.01 871.11h8M1265.01 876.75h8" fill="none" stroke="#ffa500" stroke-width="1.0" opacity="0.7"/>
<path d="M1078.2 876.75H1111.86V873.18H1113.32V872.91H1114.79V866.93H1116.25V863.28H1117.71V866.27H1119.17V869.24H1120.63V871.54H1122.09V863.81H1123.56V873.97H1125.02V854.02H1126.48V862.14H1127.94V866.76H1129.4V870.69H1130.87V861.49H1132.33V863.79H1133.79V862.17H1135.25V867.21H1136.71V853.69H1138.17V849.83H1139.64V867.5H1141.1V856.65H1142.56V860.37H1144.02V844.35H1145.48V854.05H1146.95V847.44H1148.41V835.63H1149.87V857.07H1151.33V840.54H1152.79V834.41H1154.26V845.73H1155.72V816.26H1157.18V831.05H1158.64V798.2H1160.1V775.27H1161.57V768.1H1163.03V791.84H1164.49V753.66H1165.95V778.49H1167.41V738.02H1168.87V785.84H1170.34V725.53H1171.8V773.72H1173.26V698.43H1174.72V694.85H1176.18V737.98H1177.65V670.23H1179.11V677.73H1180.57V705.71H1182.03V678.52H1183.49V648.74H1184.95V655.6H1186.42V726.42H1187.88V650.53H1189.34V692.87H1190.8V667.14H1192.26V714.69H1193.73V659.77H1195.19V667.91H1196.65V677.44H1198.11V711.88H1199.57V739.08H1201.04V745.32H1202.5V725.17H1203.96V727.72H1205.42V743.12H1206.88V755.92H1208.35V760.22H1209.81V767.38H1211.27V778.63H1212.73V758.68H1214.19V764.43H1215.65V792.45H1217.12V806.47H1218.58V810.92H1220.04V811.26H1221.5V824.43H1222.96V826.14H1224.43V820.46H1225.89V833.37H1227.35V858.58H1228.81V835H1230.27V849.07H1231.74V853.23H1233.2V855.15H1234.66V864.4H1236.12V863.81H1237.58V869.19H1239.04V865.12H1240.51V874.41H1241.97V866.77H1243.43V874.37H1244.89V866.73H1246.35V876.75H1247.82V867.74H1249.28V876.36H1250.74V866.99H1252.2V873.52H1253.66V866.84H1255.12V868.92H1256.59V870.85H1258.05V875.18H1259.51V872.43H1260.97V875.3H1262.43V869.75H1263.9V876.75H1265.36V873.84H1266.82V876.17H1268.28V875.06H1269.74V876.75H1313.6H1313.6" fill="none" stroke="#ffa500" stroke-width="2.8" stroke-linejoin="miter"/>
</g>
<path d="M1094.32 877.2v-28M1094.32 580.8v28M1167.41 877.2v-28M1167.41 580.8v28M1240.51 877.2v-28M1240.51 580.8v28M1130.87 877.2v-14.7M1130.87 580.8v14.7M1203.96 877.2v-14.7M1203.96 580.8v14.7M1277.05 877.2v-14.7M1277.05 580.8v14.7M1079.7 811.33h28M1313.6 811.33h-28M1079.7 745.47h28M1313.6 745.47h-28M1079.7 679.6h28M1313.6 679.6h-28M1079.7 613.73h28M1313.6 613.73h-28M1079.7 844.27h14.7M1313.6 844.27h-14.7M1079.7 778.4h14.7M1313.6 778.4h-14.7M1079.7 712.53h14.7M1313.6 712.53h-14.7M1079.7 646.67h14.7M1313.6 646.67h-14.7" fill="none" stroke="#000" stroke-width="2.1"/>
<rect x="1079.7" y="580.8" width="233.9" height="296.4" fill="none" stroke="#000" stroke-width="2.1"/>
<g transform="translate(0 918.1) scale(1 1.025) translate(0 -918.1)"><text x="1074.26" y="918.1">50</text></g>
<g transform="translate(0 918.1) scale(1 1.025) translate(0 -918.1)"><path transform="translate(1136.93 918.1) scale(0.03750 -0.03750)" d="M359 0L272 0L272 501L101 501L101 563C192 566 262 610 292 702L359 702Z" stroke-width="9.33"/><text x="1157.78" y="918.1">00</text></g>
<g transform="translate(0 918.1) scale(1 1.025) translate(0 -918.1)"><path transform="translate(1210.02 918.1) scale(0.03750 -0.03750)" d="M359 0L272 0L272 501L101 501L101 563C192 566 262 610 292 702L359 702Z" stroke-width="9.33"/><text x="1230.88" y="918.1">50</text></g>
<g transform="translate(0 918.1) scale(1 1.025) translate(0 -918.1)"><text x="1283.12" y="918.1">200</text></g>
<g transform="translate(0 890.9) scale(1 1.025) translate(0 -890.9)"><text x="1046.94" y="890.9">0</text></g>
<g transform="translate(0 825.03) scale(1 1.025) translate(0 -825.03)"><text x="1000.72" y="825.03">0.0</text><path transform="translate(1052.84 825.03) scale(0.03750 -0.03750)" d="M359 0L272 0L272 501L101 501L101 563C192 566 262 610 292 702L359 702Z" stroke-width="9.33"/></g>
<g transform="translate(0 759.17) scale(1 1.025) translate(0 -759.17)"><text x="994.82" y="759.17">0.02</text></g>
<g transform="translate(0 693.3) scale(1 1.025) translate(0 -693.3)"><text x="994.82" y="693.3">0.03</text></g>
<g transform="translate(0 627.43) scale(1 1.025) translate(0 -627.43)"><text x="994.82" y="627.43">0.04</text></g>
<text x="1198.65" y="960.6" text-anchor="middle">Angle (deg)</text>
<clipPath id="c139_1094"><rect x="137" y="1094.9" width="304" height="282.8"/></clipPath>
<g clip-path="url(#c139_1094)">
<path d="M139 1376.25H176.5V1369.78H184V1320.82H191.5V1278.62H199V1282.84H206.5V1273.28H221.5V1258.36H229V1272.71H236.5V1277.5H244V1256.11H251.5V1235.01H259V1266.8H266.5V1253.02H274V1255.27H281.5V1247.39H289V1269.06H296.5V1253.02H304V1242.33H311.5V1249.36H319V1255.27H334V1239.51H341.5V1292.41H349V1305.35H356.5V1309.01H371.5V1334.05H386.5V1356.84H394V1365H401.5V1373.44H409V1374H431.5V1376.25H439H439Z" fill="#dcdcdc" stroke="none"/>
<path d="M184 1367.23V1372.33M191.5 1304.38V1337.27M199 1237.52V1319.72M206.5 1254.87V1310.81M214 1246.84V1299.72M221.5 1230.19V1316.36M229 1207.82V1308.9M236.5 1243.98V1301.44M244 1252.66V1302.33M251.5 1209.43V1302.8M259 1172.61V1297.42M266.5 1220.7V1312.9M274 1213.93V1292.11M281.5 1217.14V1293.39M289 1204.24V1290.55M296.5 1228.58V1309.53M304 1208.08V1297.96M311.5 1194.85V1289.81M319 1214.89V1283.84M326.5 1205.62V1304.92M334 1221.12V1289.42M341.5 1201.68V1277.35M349 1255.82V1328.99M356.5 1285.37V1325.33M364 1289.25V1328.77M371.5 1288.36V1329.65M379 1320.38V1347.71M386.5 1322.78V1345.31M394 1351.49V1362.18M401.5 1361.63V1368.36M409 1371.93V1374.95M416.5 1372.31V1375.69M424 1372.1V1375.9M431.5 1371.73V1376.25" fill="none" stroke="#000" stroke-width="1.0" stroke-dasharray="1 1.7" opacity="0.527"/><path d="M180 1367.23h8M180 1372.33h8M187.5 1304.38h8M187.5 1337.27h8M195 1237.52h8M195 1319.72h8M202.5 1254.87h8M202.5 1310.81h8M210 1246.84h8M210 1299.72h8M217.5 1230.19h8M217.5 1316.36h8M225 1207.82h8M225 1308.9h8M232.5 1243.98h8M232.5 1301.44h8M240 1252.66h8M240 1302.33h8M247.5 1209.43h8M247.5 1302.8h8M255 1172.61h8M255 1297.42h8M262.5 1220.7h8M262.5 1312.9h8M270 1213.93h8M270 1292.11h8M277.5 1217.14h8M277.5 1293.39h8M285 1204.24h8M285 1290.55h8M292.5 1228.58h8M292.5 1309.53h8M300 1208.08h8M300 1297.96h8M307.5 1194.85h8M307.5 1289.81h8M315 1214.89h8M315 1283.84h8M322.5 1205.62h8M322.5 1304.92h8M330 1221.12h8M330 1289.42h8M337.5 1201.68h8M337.5 1277.35h8M345 1255.82h8M345 1328.99h8M352.5 1285.37h8M352.5 1325.33h8M360 1289.25h8M360 1328.77h8M367.5 1288.36h8M367.5 1329.65h8M375 1320.38h8M375 1347.71h8M382.5 1322.78h8M382.5 1345.31h8M390 1351.49h8M390 1362.18h8M397.5 1361.63h8M397.5 1368.36h8M405 1371.93h8M405 1374.95h8M412.5 1372.31h8M412.5 1375.69h8M420 1372.1h8M420 1375.9h8M427.5 1371.73h8M427.5 1376.25h8" fill="none" stroke="#000" stroke-width="1.0" opacity="0.62"/>
<path d="M137.5 1376.25H176.5V1369.78H184V1320.82H191.5V1278.62H199V1282.84H206.5V1273.28H221.5V1258.36H229V1272.71H236.5V1277.5H244V1256.11H251.5V1235.01H259V1266.8H266.5V1253.02H274V1255.27H281.5V1247.39H289V1269.06H296.5V1253.02H304V1242.33H311.5V1249.36H319V1255.27H334V1239.51H341.5V1292.41H349V1305.35H356.5V1309.01H371.5V1334.05H386.5V1356.84H394V1365H401.5V1373.44H409V1374H431.5V1376.25H439H439" fill="none" stroke="#000" stroke-width="2.8" stroke-linejoin="miter"/>
<path d="M191.5 1333.48V1358.25M199 1278.23V1327.96M206.5 1208.24V1297.8M214 1252.59V1310.84M221.5 1172.24V1282.59M229 1214.16V1291.87M236.5 1206.22V1292.5M244 1203.3V1291.49M251.5 1224.54V1291.06M259 1176.59V1291.18M266.5 1184.97V1269.86M274 1204.51V1311.09M281.5 1185.63V1304.66M289 1130.29V1233.95M296.5 1148.37V1282.82M304 1136.57V1285.06M311.5 1203.92V1280.73M319 1215.56V1283.16M326.5 1246.3V1309.82M334 1287.46V1330.55M341.5 1235V1298.61M349 1294.7V1340.2M356.5 1292.4V1342.49M364 1309.08V1342.13M371.5 1351.7V1361.97M379 1332.13V1359.04M386.5 1364.13V1370.93M394 1366.84V1374.97M401.5 1366.53V1375.28M409 1369.54V1375.09M416.5 1373.24V1374.76M424 1372.87V1375.13M431.5 1371.44V1376.25" fill="none" stroke="#ffa500" stroke-width="1.0" stroke-dasharray="1 1.7" opacity="0.595"/><path d="M187.5 1333.48h8M187.5 1358.25h8M195 1278.23h8M195 1327.96h8M202.5 1208.24h8M202.5 1297.8h8M210 1252.59h8M210 1310.84h8M217.5 1172.24h8M217.5 1282.59h8M225 1214.16h8M225 1291.87h8M232.5 1206.22h8M232.5 1292.5h8M240 1203.3h8M240 1291.49h8M247.5 1224.54h8M247.5 1291.06h8M255 1176.59h8M255 1291.18h8M262.5 1184.97h8M262.5 1269.86h8M270 1204.51h8M270 1311.09h8M277.5 1185.63h8M277.5 1304.66h8M285 1130.29h8M285 1233.95h8M292.5 1148.37h8M292.5 1282.82h8M300 1136.57h8M300 1285.06h8M307.5 1203.92h8M307.5 1280.73h8M315 1215.56h8M315 1283.16h8M322.5 1246.3h8M322.5 1309.82h8M330 1287.46h8M330 1330.55h8M337.5 1235h8M337.5 1298.61h8M345 1294.7h8M345 1340.2h8M352.5 1292.4h8M352.5 1342.49h8M360 1309.08h8M360 1342.13h8M367.5 1351.7h8M367.5 1361.97h8M375 1332.13h8M375 1359.04h8M382.5 1364.13h8M382.5 1370.93h8M390 1366.84h8M390 1374.97h8M397.5 1366.53h8M397.5 1375.28h8M405 1369.54h8M405 1375.09h8M412.5 1373.24h8M412.5 1374.76h8M420 1372.87h8M420 1375.13h8M427.5 1371.44h8M427.5 1376.25h8" fill="none" stroke="#ffa500" stroke-width="1.0" opacity="0.7"/>
<path d="M137.5 1376.25H184V1345.86H191.5V1303.1H199V1253.02H206.5V1281.72H214V1227.42H221.5V1253.02H229V1249.36H236.5V1247.39H244V1257.8H251.5V1233.89H259V1227.42H266.5V1257.8H274V1245.14H281.5V1182.12H289V1215.6H296.5V1210.82H304V1242.33H311.5V1249.36H319V1278.06H326.5V1309.01H334V1266.8H341.5V1317.45H356.5V1325.61H364V1356.84H371.5V1345.58H379V1367.53H386.5V1370.9H401.5V1372.31H409V1374H431.5V1376.25H439H439" fill="none" stroke="#ffa500" stroke-width="2.8" stroke-linejoin="miter"/>
</g>
<path d="M214 1376.7v-28M214 1094.9v28M289 1376.7v-28M289 1094.9v28M364 1376.7v-28M364 1094.9v28M176.5 1376.7v-14.7M176.5 1094.9v14.7M251.5 1376.7v-14.7M251.5 1094.9v14.7M326.5 1376.7v-14.7M326.5 1094.9v14.7M401.5 1376.7v-14.7M401.5 1094.9v14.7M139 1320.34h28M439 1320.34h-28M139 1263.98h28M439 1263.98h-28M139 1207.62h28M439 1207.62h-28M139 1151.26h28M439 1151.26h-28M139 1348.52h14.7M439 1348.52h-14.7M139 1292.16h14.7M439 1292.16h-14.7M139 1235.8h14.7M439 1235.8h-14.7M139 1179.44h14.7M439 1179.44h-14.7M139 1123.08h14.7M439 1123.08h-14.7" fill="none" stroke="#000" stroke-width="2.1"/>
<rect x="139" y="1094.9" width="300" height="281.8" fill="none" stroke="#000" stroke-width="2.1"/>
<g transform="translate(0 1417.6) scale(1 1.025) translate(0 -1417.6)"><text x="129.37" y="1417.6">0</text></g>
<g transform="translate(0 1417.6) scale(1 1.025) translate(0 -1417.6)"><path transform="translate(193.94 1417.6) scale(0.03750 -0.03750)" d="M359 0L272 0L272 501L101 501L101 563C192 566 262 610 292 702L359 702Z" stroke-width="9.33"/><text x="214.8" y="1417.6">0</text></g>
<g transform="translate(0 1417.6) scale(1 1.025) translate(0 -1417.6)"><text x="268.94" y="1417.6">20</text></g>
<g transform="translate(0 1417.6) scale(1 1.025) translate(0 -1417.6)"><text x="343.94" y="1417.6">30</text></g>
<g transform="translate(0 1417.6) scale(1 1.025) translate(0 -1417.6)"><text x="418.94" y="1417.6">40</text></g>
<g transform="translate(0 1390.4) scale(1 1.025) translate(0 -1390.4)"><text x="106.24" y="1390.4">0</text></g>
<g transform="translate(0 1334.04) scale(1 1.025) translate(0 -1334.04)"><text x="54.12" y="1334.04">0.02</text></g>
<g transform="translate(0 1277.68) scale(1 1.025) translate(0 -1277.68)"><text x="54.12" y="1277.68">0.04</text></g>
<g transform="translate(0 1221.32) scale(1 1.025) translate(0 -1221.32)"><text x="54.12" y="1221.32">0.06</text></g>
<g transform="translate(0 1164.96) scale(1 1.025) translate(0 -1164.96)"><text x="54.12" y="1164.96">0.08</text></g>
<g transform="translate(0 1108.6) scale(1 1.025) translate(0 -1108.6)"><text x="80.87" y="1108.6">0.</text><path transform="translate(112.14 1108.6) scale(0.03750 -0.03750)" d="M359 0L272 0L272 501L101 501L101 563C192 566 262 610 292 702L359 702Z" stroke-width="9.33"/></g>
<text x="291" y="1467.9" text-anchor="middle">Dist<tspan font-size="26.9" dy="16.1">NC3-NC3</tspan><tspan dy="-16.1"> (Å)</tspan></text>
<clipPath id="c529_1094"><rect x="527" y="1094.9" width="304" height="282.8"/></clipPath>
<g clip-path="url(#c529_1094)">
<path d="M529 1376.25H566.5V1360.21H574V1286.22H581.5V1280.03H589V1300.29H596.5V1282.84H604V1279.18H611.5V1275.25H619V1258.93H626.5V1255.27H634V1243.45H641.5V1239.8H649V1218.98H656.5V1263.15H664V1240.92H671.5V1242.33H679V1238.67H686.5V1237.54H701.5V1243.45H709V1261.46H716.5V1264.84H724V1287.06H731.5V1273.28H739V1309.01H746.5V1326.17H754V1330.39H761.5V1348.96H769V1359.09H776.5V1366.12H784V1370.9H791.5V1374H806.5V1374.56H814V1376.25H829H829Z" fill="#dcdcdc" stroke="none"/>
<path d="M574 1357.94V1362.48M581.5 1268.11V1304.33M589 1263.97V1296.08M596.5 1286.34V1314.23M604 1268.74V1296.94M611.5 1267.32V1291.05M619 1261.33V1289.16M626.5 1243.24V1274.61M634 1238.16V1272.38M641.5 1225.31V1261.59M649 1205.26V1274.33M656.5 1193.38V1244.57M664 1246.45V1279.85M671.5 1205.88V1275.96M679 1208.17V1276.49M686.5 1204.19V1273.15M694 1220.2V1254.89M701.5 1205.02V1270.07M709 1222.96V1263.94M716.5 1234.59V1288.33M724 1247.66V1282.01M731.5 1272.18V1301.94M739 1257.35V1289.2M746.5 1299.93V1318.08M754 1318.76V1333.58M761.5 1318.3V1342.48M769 1343.13V1354.79M776.5 1356.01V1362.16M784 1362.87V1369.37M791.5 1367.47V1374.34M799 1371.72V1376.25M806.5 1372.54V1375.46M814 1372.53V1376.25" fill="none" stroke="#000" stroke-width="1.0" stroke-dasharray="1 1.7" opacity="0.527"/><path d="M570 1357.94h8M570 1362.48h8M577.5 1268.11h8M577.5 1304.33h8M585 1263.97h8M585 1296.08h8M592.5 1286.34h8M592.5 1314.23h8M600 1268.74h8M600 1296.94h8M607.5 1267.32h8M607.5 1291.05h8M615 1261.33h8M615 1289.16h8M622.5 1243.24h8M622.5 1274.61h8M630 1238.16h8M630 1272.38h8M637.5 1225.31h8M637.5 1261.59h8M645 1205.26h8M645 1274.33h8M652.5 1193.38h8M652.5 1244.57h8M660 1246.45h8M660 1279.85h8M667.5 1205.88h8M667.5 1275.96h8M675 1208.17h8M675 1276.49h8M682.5 1204.19h8M682.5 1273.15h8M690 1220.2h8M690 1254.89h8M697.5 1205.02h8M697.5 1270.07h8M705 1222.96h8M705 1263.94h8M712.5 1234.59h8M712.5 1288.33h8M720 1247.66h8M720 1282.01h8M727.5 1272.18h8M727.5 1301.94h8M735 1257.35h8M735 1289.2h8M742.5 1299.93h8M742.5 1318.08h8M750 1318.76h8M750 1333.58h8M757.5 1318.3h8M757.5 1342.48h8M765 1343.13h8M765 1354.79h8M772.5 1356.01h8M772.5 1362.16h8M780 1362.87h8M780 1369.37h8M787.5 1367.47h8M787.5 1374.34h8M795 1371.72h8M795 1376.25h8M802.5 1372.54h8M802.5 1375.46h8M810 1372.53h8M810 1376.25h8" fill="none" stroke="#000" stroke-width="1.0" opacity="0.62"/>
<path d="M527.5 1376.25H566.5V1360.21H574V1286.22H581.5V1280.03H589V1300.29H596.5V1282.84H604V1279.18H611.5V1275.25H619V1258.93H626.5V1255.27H634V1243.45H641.5V1239.8H649V1218.98H656.5V1263.15H664V1240.92H671.5V1242.33H679V1238.67H686.5V1237.54H701.5V1243.45H709V1261.46H716.5V1264.84H724V1287.06H731.5V1273.28H739V1309.01H746.5V1326.17H754V1330.39H761.5V1348.96H769V1359.09H776.5V1366.12H784V1370.9H791.5V1374H806.5V1374.56H814V1376.25H829H829" fill="none" stroke="#000" stroke-width="2.8" stroke-linejoin="miter"/>
<path d="M574 1362.31V1369.94M581.5 1260.44V1304.11M589 1270.48V1308.15M596.5 1271.25V1296.68M604 1264.53V1308.47M611.5 1247.34V1287.4M619 1253.63V1285.61M626.5 1229.36V1265.42M634 1187.54V1257.72M641.5 1184.69V1228.5M649 1205.96V1261.82M656.5 1202.69V1272.4M664 1144.48V1225.39M671.5 1168.59V1249.1M679 1204.36V1246.53M686.5 1186.02V1248.56M694 1225.97V1268.25M701.5 1226.98V1270.61M709 1223.53V1266.75M716.5 1272.81V1297.38M724 1274.1V1300.02M731.5 1293.71V1312.48M739 1310.76V1334.83M746.5 1327.8V1342.54M754 1337.97V1353.76M761.5 1353.42V1360.25M769 1349.13V1355.54M776.5 1367V1374.25M784 1371.29V1376.25M791.5 1371.64V1376.25M799 1373.24V1375.88M806.5 1372.52V1376.25M814 1373.38V1376.25" fill="none" stroke="#ffa500" stroke-width="1.0" stroke-dasharray="1 1.7" opacity="0.595"/><path d="M570 1362.31h8M570 1369.94h8M577.5 1260.44h8M577.5 1304.11h8M585 1270.48h8M585 1308.15h8M592.5 1271.25h8M592.5 1296.68h8M600 1264.53h8M600 1308.47h8M607.5 1247.34h8M607.5 1287.4h8M615 1253.63h8M615 1285.61h8M622.5 1229.36h8M622.5 1265.42h8M630 1187.54h8M630 1257.72h8M637.5 1184.69h8M637.5 1228.5h8M645 1205.96h8M645 1261.82h8M652.5 1202.69h8M652.5 1272.4h8M660 1144.48h8M660 1225.39h8M667.5 1168.59h8M667.5 1249.1h8M675 1204.36h8M675 1246.53h8M682.5 1186.02h8M682.5 1248.56h8M690 1225.97h8M690 1268.25h8M697.5 1226.98h8M697.5 1270.61h8M705 1223.53h8M705 1266.75h8M712.5 1272.81h8M712.5 1297.38h8M720 1274.1h8M720 1300.02h8M727.5 1293.71h8M727.5 1312.48h8M735 1310.76h8M735 1334.83h8M742.5 1327.8h8M742.5 1342.54h8M750 1337.97h8M750 1353.76h8M757.5 1353.42h8M757.5 1360.25h8M765 1349.13h8M765 1355.54h8M772.5 1367h8M772.5 1374.25h8M780 1371.29h8M780 1376.25h8M787.5 1371.64h8M787.5 1376.25h8M795 1373.24h8M795 1375.88h8M802.5 1372.52h8M802.5 1376.25h8M810 1373.38h8M810 1376.25h8" fill="none" stroke="#ffa500" stroke-width="1.0" opacity="0.7"/>
<path d="M527.5 1376.25H566.5V1366.12H574V1282.28H581.5V1289.31H589V1283.97H596.5V1286.5H604V1267.37H611.5V1269.62H619V1247.39H626.5V1222.63H634V1206.6H641.5V1233.89H649V1237.54H656.5V1184.93H664V1208.85H671.5V1225.45H679V1217.29H686.5V1247.11H694V1248.8H701.5V1245.14H709V1285.09H716.5V1287.06H724V1303.1H731.5V1322.79H739V1335.17H746.5V1345.86H754V1356.84H761.5V1352.34H769V1370.62H776.5V1374H784V1374.56H806.5V1375.12H814V1376.25H829H829" fill="none" stroke="#ffa500" stroke-width="2.8" stroke-linejoin="miter"/>
</g>
<path d="M604 1376.7v-28M604 1094.9v28M679 1376.7v-28M679 1094.9v28M754 1376.7v-28M754 1094.9v28M566.5 1376.7v-14.7M566.5 1094.9v14.7M641.5 1376.7v-14.7M641.5 1094.9v14.7M716.5 1376.7v-14.7M716.5 1094.9v14.7M791.5 1376.7v-14.7M791.5 1094.9v14.7M529 1320.34h28M829 1320.34h-28M529 1263.98h28M829 1263.98h-28M529 1207.62h28M829 1207.62h-28M529 1151.26h28M829 1151.26h-28M529 1348.52h14.7M829 1348.52h-14.7M529 1292.16h14.7M829 1292.16h-14.7M529 1235.8h14.7M829 1235.8h-14.7M529 1179.44h14.7M829 1179.44h-14.7M529 1123.08h14.7M829 1123.08h-14.7" fill="none" stroke="#000" stroke-width="2.1"/>
<rect x="529" y="1094.9" width="300" height="281.8" fill="none" stroke="#000" stroke-width="2.1"/>
<g transform="translate(0 1417.6) scale(1 1.025) translate(0 -1417.6)"><text x="519.37" y="1417.6">0</text></g>
<g transform="translate(0 1417.6) scale(1 1.025) translate(0 -1417.6)"><path transform="translate(583.94 1417.6) scale(0.03750 -0.03750)" d="M359 0L272 0L272 501L101 501L101 563C192 566 262 610 292 702L359 702Z" stroke-width="9.33"/><text x="604.8" y="1417.6">0</text></g>
<g transform="translate(0 1417.6) scale(1 1.025) translate(0 -1417.6)"><text x="658.94" y="1417.6">20</text></g>
<g transform="translate(0 1417.6) scale(1 1.025) translate(0 -1417.6)"><text x="733.94" y="1417.6">30</text></g>
<g transform="translate(0 1417.6) scale(1 1.025) translate(0 -1417.6)"><text x="808.94" y="1417.6">40</text></g>
<g transform="translate(0 1390.4) scale(1 1.025) translate(0 -1390.4)"><text x="496.24" y="1390.4">0</text></g>
<g transform="translate(0 1334.04) scale(1 1.025) translate(0 -1334.04)"><text x="444.12" y="1334.04">0.02</text></g>
<g transform="translate(0 1277.68) scale(1 1.025) translate(0 -1277.68)"><text x="444.12" y="1277.68">0.04</text></g>
<g transform="translate(0 1221.32) scale(1 1.025) translate(0 -1221.32)"><text x="444.12" y="1221.32">0.06</text></g>
<g transform="translate(0 1164.96) scale(1 1.025) translate(0 -1164.96)"><text x="444.12" y="1164.96">0.08</text></g>
<g transform="translate(0 1108.6) scale(1 1.025) translate(0 -1108.6)"><text x="470.87" y="1108.6">0.</text><path transform="translate(502.14 1108.6) scale(0.03750 -0.03750)" d="M359 0L272 0L272 501L101 501L101 563C192 566 262 610 292 702L359 702Z" stroke-width="9.33"/></g>
<text x="681" y="1467.9" text-anchor="middle">Dist<tspan font-size="26.9" dy="16.1">NC3-PO4</tspan><tspan dy="-16.1"> (Å)</tspan></text>
<clipPath id="c919_1094"><rect x="917" y="1094.9" width="304" height="282.8"/></clipPath>
<g clip-path="url(#c919_1094)">
<path d="M919 1376.25H956.5V1374.56H964V1337.14H971.5V1283.97H979V1292.41H986.5V1263.71H994V1244.58H1001.5V1219.54H1009V1233.89H1016.5V1188.03H1024V1241.76H1031.5V1258.36H1039V1253.02H1046.5V1233.89H1061.5V1208.28H1069V1249.36H1084V1236.42H1091.5V1263.71H1099V1236.42H1106.5V1286.5H1114V1298.32H1121.5V1300.57H1129V1327.01H1136.5V1330.39H1144V1348.96H1151.5V1368.65H1159V1373.44H1174V1376.25H1219H1219Z" fill="#dcdcdc" stroke="none"/>
<path d="M964 1374.02V1375.11M971.5 1328.04V1346.24M979 1267.2V1300.73M986.5 1271.14V1313.67M994 1229.2V1298.22M1001.5 1213.7V1275.46M1009 1191.05V1248.02M1016.5 1207.52V1260.25M1024 1130.15V1245.9M1031.5 1214.38V1269.15M1039 1237.33V1279.4M1046.5 1211.97V1294.06M1054 1208.89V1258.88M1061.5 1185.45V1282.32M1069 1171.36V1245.21M1076.5 1219.45V1279.27M1084 1224.3V1274.42M1091.5 1205.61V1267.23M1099 1228.71V1298.71M1106.5 1210.36V1262.48M1114 1268.38V1304.62M1121.5 1282.37V1314.26M1129 1284.46V1316.68M1136.5 1316.43V1337.6M1144 1321.59V1339.19M1151.5 1343.82V1354.1M1159 1366.28V1371.03M1166.5 1371.21V1375.66M1174 1369.94V1376.25" fill="none" stroke="#000" stroke-width="1.0" stroke-dasharray="1 1.7" opacity="0.527"/><path d="M960 1374.02h8M960 1375.11h8M967.5 1328.04h8M967.5 1346.24h8M975 1267.2h8M975 1300.73h8M982.5 1271.14h8M982.5 1313.67h8M990 1229.2h8M990 1298.22h8M997.5 1213.7h8M997.5 1275.46h8M1005 1191.05h8M1005 1248.02h8M1012.5 1207.52h8M1012.5 1260.25h8M1020 1130.15h8M1020 1245.9h8M1027.5 1214.38h8M1027.5 1269.15h8M1035 1237.33h8M1035 1279.4h8M1042.5 1211.97h8M1042.5 1294.06h8M1050 1208.89h8M1050 1258.88h8M1057.5 1185.45h8M1057.5 1282.32h8M1065 1171.36h8M1065 1245.21h8M1072.5 1219.45h8M1072.5 1279.27h8M1080 1224.3h8M1080 1274.42h8M1087.5 1205.61h8M1087.5 1267.23h8M1095 1228.71h8M1095 1298.71h8M1102.5 1210.36h8M1102.5 1262.48h8M1110 1268.38h8M1110 1304.62h8M1117.5 1282.37h8M1117.5 1314.26h8M1125 1284.46h8M1125 1316.68h8M1132.5 1316.43h8M1132.5 1337.6h8M1140 1321.59h8M1140 1339.19h8M1147.5 1343.82h8M1147.5 1354.1h8M1155 1366.28h8M1155 1371.03h8M1162.5 1371.21h8M1162.5 1375.66h8M1170 1369.94h8M1170 1376.25h8" fill="none" stroke="#000" stroke-width="1.0" opacity="0.62"/>
<path d="M917.5 1376.25H956.5V1374.56H964V1337.14H971.5V1283.97H979V1292.41H986.5V1263.71H994V1244.58H1001.5V1219.54H1009V1233.89H1016.5V1188.03H1024V1241.76H1031.5V1258.36H1039V1253.02H1046.5V1233.89H1061.5V1208.28H1069V1249.36H1084V1236.42H1091.5V1263.71H1099V1236.42H1106.5V1286.5H1114V1298.32H1121.5V1300.57H1129V1327.01H1136.5V1330.39H1144V1348.96H1151.5V1368.65H1159V1373.44H1174V1376.25H1219H1219" fill="none" stroke="#000" stroke-width="2.8" stroke-linejoin="miter"/>
<path d="M964 1370.78V1376.25M971.5 1331.88V1346.91M979 1261.27V1310.6M986.5 1251.88V1294.67M994 1199.1V1268.67M1001.5 1187.92V1250.03M1009 1220.68V1267.92M1016.5 1208.9V1270.13M1024 1194.28V1249.86M1031.5 1174.23V1235.58M1039 1176.77V1238.67M1046.5 1150.18V1249.51M1054 1143.46V1256.23M1061.5 1176.51V1250.75M1069 1211.78V1265.56M1076.5 1184.23V1270.6M1084 1220.66V1268.5M1091.5 1222.09V1282.82M1099 1247.1V1291.01M1106.5 1284.33V1316.81M1114 1256.48V1311.45M1121.5 1316.5V1335.84M1129 1303.29V1337.8M1136.5 1315.89V1346.57M1144 1350.01V1363.67M1151.5 1366.45V1370.85M1159 1373.32V1374.67M1166.5 1373.46V1376.25" fill="none" stroke="#ffa500" stroke-width="1.0" stroke-dasharray="1 1.7" opacity="0.595"/><path d="M960 1370.78h8M960 1376.25h8M967.5 1331.88h8M967.5 1346.91h8M975 1261.27h8M975 1310.6h8M982.5 1251.88h8M982.5 1294.67h8M990 1199.1h8M990 1268.67h8M997.5 1187.92h8M997.5 1250.03h8M1005 1220.68h8M1005 1267.92h8M1012.5 1208.9h8M1012.5 1270.13h8M1020 1194.28h8M1020 1249.86h8M1027.5 1174.23h8M1027.5 1235.58h8M1035 1176.77h8M1035 1238.67h8M1042.5 1150.18h8M1042.5 1249.51h8M1050 1143.46h8M1050 1256.23h8M1057.5 1176.51h8M1057.5 1250.75h8M1065 1211.78h8M1065 1265.56h8M1072.5 1184.23h8M1072.5 1270.6h8M1080 1220.66h8M1080 1268.5h8M1087.5 1222.09h8M1087.5 1282.82h8M1095 1247.1h8M1095 1291.01h8M1102.5 1284.33h8M1102.5 1316.81h8M1110 1256.48h8M1110 1311.45h8M1117.5 1316.5h8M1117.5 1335.84h8M1125 1303.29h8M1125 1337.8h8M1132.5 1315.89h8M1132.5 1346.57h8M1140 1350.01h8M1140 1363.67h8M1147.5 1366.45h8M1147.5 1370.85h8M1155 1373.32h8M1155 1374.67h8M1162.5 1373.46h8M1162.5 1376.25h8" fill="none" stroke="#ffa500" stroke-width="1.0" opacity="0.7"/>
<path d="M917.5 1376.25H956.5V1374H964V1339.39H971.5V1285.94H979V1273.28H986.5V1233.89H994V1218.98H1001.5V1244.3H1009V1239.51H1016.5V1222.07H1024V1204.91H1031.5V1207.72H1039V1199.84H1054V1213.63H1061.5V1238.67H1069V1227.42H1076.5V1244.58H1084V1252.46H1091.5V1269.06H1099V1300.57H1106.5V1283.97H1114V1326.17H1121.5V1320.54H1129V1331.23H1136.5V1356.84H1144V1368.65H1151.5V1374H1159V1375.41H1166.5V1376.25H1219H1219" fill="none" stroke="#ffa500" stroke-width="2.8" stroke-linejoin="miter"/>
</g>
<path d="M994 1376.7v-28M994 1094.9v28M1069 1376.7v-28M1069 1094.9v28M1144 1376.7v-28M1144 1094.9v28M956.5 1376.7v-14.7M956.5 1094.9v14.7M1031.5 1376.7v-14.7M1031.5 1094.9v14.7M1106.5 1376.7v-14.7M1106.5 1094.9v14.7M1181.5 1376.7v-14.7M1181.5 1094.9v14.7M919 1320.34h28M1219 1320.34h-28M919 1263.98h28M1219 1263.98h-28M919 1207.62h28M1219 1207.62h-28M919 1151.26h28M1219 1151.26h-28M919 1348.52h14.7M1219 1348.52h-14.7M919 1292.16h14.7M1219 1292.16h-14.7M919 1235.8h14.7M1219 1235.8h-14.7M919 1179.44h14.7M1219 1179.44h-14.7M919 1123.08h14.7M1219 1123.08h-14.7" fill="none" stroke="#000" stroke-width="2.1"/>
<rect x="919" y="1094.9" width="300" height="281.8" fill="none" stroke="#000" stroke-width="2.1"/>
<g transform="translate(0 1417.6) scale(1 1.025) translate(0 -1417.6)"><text x="909.37" y="1417.6">0</text></g>
<g transform="translate(0 1417.6) scale(1 1.025) translate(0 -1417.6)"><path transform="translate(973.94 1417.6) scale(0.03750 -0.03750)" d="M359 0L272 0L272 501L101 501L101 563C192 566 262 610 292 702L359 702Z" stroke-width="9.33"/><text x="994.8" y="1417.6">0</text></g>
<g transform="translate(0 1417.6) scale(1 1.025) translate(0 -1417.6)"><text x="1048.94" y="1417.6">20</text></g>
<g transform="translate(0 1417.6) scale(1 1.025) translate(0 -1417.6)"><text x="1123.94" y="1417.6">30</text></g>
<g transform="translate(0 1417.6) scale(1 1.025) translate(0 -1417.6)"><text x="1198.94" y="1417.6">40</text></g>
<g transform="translate(0 1390.4) scale(1 1.025) translate(0 -1390.4)"><text x="886.24" y="1390.4">0</text></g>
<g transform="translate(0 1334.04) scale(1 1.025) translate(0 -1334.04)"><text x="834.12" y="1334.04">0.02</text></g>
<g transform="translate(0 1277.68) scale(1 1.025) translate(0 -1277.68)"><text x="834.12" y="1277.68">0.04</text></g>
<g transform="translate(0 1221.32) scale(1 1.025) translate(0 -1221.32)"><text x="834.12" y="1221.32">0.06</text></g>
<g transform="translate(0 1164.96) scale(1 1.025) translate(0 -1164.96)"><text x="834.12" y="1164.96">0.08</text></g>
<g transform="translate(0 1108.6) scale(1 1.025) translate(0 -1108.6)"><text x="860.87" y="1108.6">0.</text><path transform="translate(892.14 1108.6) scale(0.03750 -0.03750)" d="M359 0L272 0L272 501L101 501L101 563C192 566 262 610 292 702L359 702Z" stroke-width="9.33"/></g>
<text x="1071" y="1467.9" text-anchor="middle">Dist<tspan font-size="26.9" dy="16.1">PO4-PO4</tspan><tspan dy="-16.1"> (Å)</tspan></text>
<g font-size="132.5"><clipPath id="ca"><rect x="0" y="0" width="66.9" height="90"/></clipPath><text x="-1.9" y="71.5" font-size="132" clip-path="url(#ca)">a</text><text x="-2.4" y="551.3" font-size="131">b</text><text transform="translate(-4.9 1061.6) scale(1.03 1)" font-size="132">c</text></g>
</svg>
</body></html>
